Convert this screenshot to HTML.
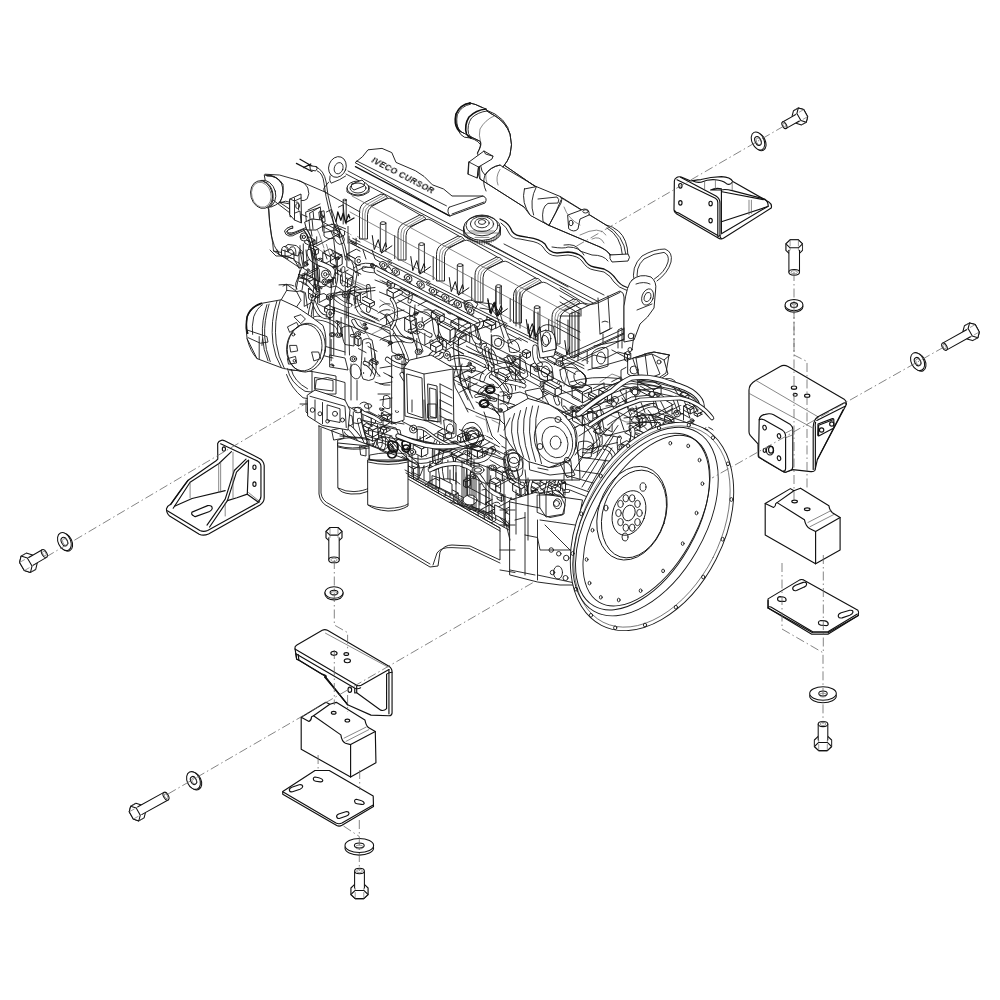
<!DOCTYPE html>
<html><head><meta charset="utf-8"><style>
html,body{margin:0;padding:0;background:#fff;}
svg{display:block}
svg text{opacity:0.99}
.k{stroke:#111;stroke-width:1.05;stroke-linejoin:round;stroke-linecap:round}
.n{stroke:none}
.t{stroke:#555;stroke-width:0.6;fill:none}
.c{stroke:#666;stroke-width:0.8;fill:none;stroke-dasharray:9 3 1.5 3}
.z *{vector-effect:non-scaling-stroke}
.e{stroke:#1a1a1a;stroke-width:0.9;fill:none;stroke-linejoin:round;stroke-linecap:round}
.ew{stroke:#1a1a1a;stroke-width:0.95;fill:#fff;stroke-linejoin:round;stroke-linecap:round}
.eb{stroke:#111;stroke-width:1.2;fill:#fff;stroke-linejoin:round;stroke-linecap:round}
.p{stroke:#111;stroke-width:1.15;fill:none;stroke-linejoin:round;stroke-linecap:round}
.pw{stroke:#111;stroke-width:1.15;fill:#fff;stroke-linejoin:round;stroke-linecap:round}
.el{stroke:#555;stroke-width:0.7;fill:none;stroke-linejoin:round;stroke-linecap:round}
</style></head>
<body><svg width="1000" height="1000" viewBox="0 0 1000 1000">
<rect width="1000" height="1000" fill="#fff"/>
<defs>
<clipPath id="cz0"><polygon points="300,250 350,245 590,370 640,395 700,410 720,440 700,470 620,470 570,440 520,420 460,400 400,380 340,370 300,350"/></clipPath>
<clipPath id="cz1"><polygon points="340,400 420,415 500,440 560,470 575,500 560,540 500,528 408,476 345,440"/></clipPath>
<clipPath id="cz2"><polygon points="600,350 640,345 700,385 705,410 690,425 650,420 600,400"/></clipPath>
<clipPath id="cz3"><polygon points="510,470 570,470 585,500 575,560 540,575 510,540"/></clipPath>
<clipPath id="cz4"><polygon points="295,230 330,222 360,240 362,300 330,320 300,300"/></clipPath>
</defs>
<g clip-path="url(#cz0)">
<path d="M508.1,346.1 l21.0,11.1" class="e"/>
<path d="M463.7,381.7 l19.2,-10.2" class="e"/>
<path d="M697.0,447.8 C704.3,450.3 706.0,451.6 709.5,450.3" style="stroke:#1a1a1a;stroke-width:4.5;fill:none;stroke-linecap:round"/><path d="M697.0,447.8 C704.3,450.3 706.0,451.6 709.5,450.3" style="stroke:#fff;stroke-width:2.9;fill:none;stroke-linecap:round"/>
<path d="M619.6,459.3 L619.6,463.5 L619.6,453.9 L629.4,448.8 L629.4,438.7" class="e"/>
<path d="M427.4,377.2 L416.4,383.0 L403.9,376.4 L403.9,383.2 L403.9,396.0" class="e"/>
<path d="M345.3,281.8 l0.0,13.0" class="e"/>
<path d="M312.4,254.8 l0.0,24.7" class="e"/>
<path d="M542.8,390.6 C551.7,385.1 554.3,389.6 559.1,382.0" style="stroke:#1a1a1a;stroke-width:3.1;fill:none;stroke-linecap:round"/><path d="M542.8,390.6 C551.7,385.1 554.3,389.6 559.1,382.0" style="stroke:#fff;stroke-width:1.5;fill:none;stroke-linecap:round"/>
<polygon points="542.7,348.3 554.9,354.8 554.9,364.7 542.7,358.2" class="ew"/><polygon points="554.9,354.8 557.4,353.4 557.4,363.4 554.9,364.7" class="ew"/><polygon points="542.7,348.3 554.9,354.8 557.4,353.4 545.2,347.0" class="ew"/>
<path d="M644.6,444.4 l0.0,21.4" class="e"/>
<path d="M453.2,369.7 L459.1,366.6 L459.1,357.6 L459.1,354.0" class="e"/>
<path d="M661.6,424.6 l21.5,-11.4" class="e"/>
<path d="M418.1,305.4 l9.5,-5.0" class="e"/>
<ellipse cx="329.2" cy="280.9" rx="1.9" ry="1.6" class="ew"/><ellipse cx="329.2" cy="280.9" rx="0.9" ry="0.9" class="e"/>
<path d="M435.2,351.6 C425.8,358.0 427.7,365.5 415.1,362.3" style="stroke:#1a1a1a;stroke-width:4.2;fill:none;stroke-linecap:round"/><path d="M435.2,351.6 C425.8,358.0 427.7,365.5 415.1,362.3" style="stroke:#fff;stroke-width:2.6;fill:none;stroke-linecap:round"/>
<path d="M394.7,334.4 C399.1,339.0 413.6,367.4 405.8,371.6" style="stroke:#1a1a1a;stroke-width:4.2;fill:none;stroke-linecap:round"/><path d="M394.7,334.4 C399.1,339.0 413.6,367.4 405.8,371.6" style="stroke:#fff;stroke-width:2.6;fill:none;stroke-linecap:round"/>
<polygon points="694.5,412.4 697.6,414.0 697.6,416.6 694.5,415.0" class="ew"/><polygon points="697.6,414.0 703.1,411.1 703.1,413.7 697.6,416.6" class="ew"/><polygon points="694.5,412.4 697.6,414.0 703.1,411.1 700.0,409.4" class="ew"/>
<ellipse cx="644.2" cy="461.5" rx="1.9" ry="2.2" class="ew"/><ellipse cx="644.2" cy="461.5" rx="0.9" ry="0.9" class="e"/>
<path d="M381.5,268.5 l11.6,-6.2" class="e"/>
<path d="M469.0,308.3 C468.6,312.5 480.0,339.7 479.3,342.8" style="stroke:#1a1a1a;stroke-width:5.1;fill:none;stroke-linecap:round"/><path d="M469.0,308.3 C468.6,312.5 480.0,339.7 479.3,342.8" style="stroke:#fff;stroke-width:3.5;fill:none;stroke-linecap:round"/>
<path d="M335.6,283.2 L335.6,277.6 L330.9,280.1 L330.9,287.2" class="e"/>
<path d="M505.3,375.5 l12.1,-6.4" class="e"/>
<polygon points="631.0,431.4 642.4,437.5 642.4,446.1 631.0,440.1" class="ew"/><polygon points="642.4,437.5 647.5,434.8 647.5,443.5 642.4,446.1" class="ew"/><polygon points="631.0,431.4 642.4,437.5 647.5,434.8 636.0,428.7" class="ew"/>
<path d="M630.5,431.2 C644.1,429.8 654.8,442.9 657.7,445.7" style="stroke:#1a1a1a;stroke-width:3.3;fill:none;stroke-linecap:round"/><path d="M630.5,431.2 C644.1,429.8 654.8,442.9 657.7,445.7" style="stroke:#fff;stroke-width:1.7;fill:none;stroke-linecap:round"/>
<path d="M368.0,346.5 l9.0,4.8" class="e"/>
<path d="M387.2,316.4 C393.4,319.8 395.1,341.7 411.3,340.5" style="stroke:#1a1a1a;stroke-width:5.4;fill:none;stroke-linecap:round"/><path d="M387.2,316.4 C393.4,319.8 395.1,341.7 411.3,340.5" style="stroke:#fff;stroke-width:3.8;fill:none;stroke-linecap:round"/>
<path d="M346.8,293.4 l0.0,24.6" class="e"/>
<polygon points="387.3,289.8 393.5,293.1 393.5,298.3 387.3,295.0" class="ew"/><polygon points="393.5,293.1 402.3,288.5 402.3,293.7 393.5,298.3" class="ew"/><polygon points="387.3,289.8 393.5,293.1 402.3,288.5 396.0,285.2" class="ew"/>
<path d="M317.2,287.0 l17.0,-9.0" class="e"/>
<path d="M556.8,426.7 C552.0,421.0 539.7,425.7 539.0,423.1" style="stroke:#1a1a1a;stroke-width:5.1;fill:none;stroke-linecap:round"/><path d="M556.8,426.7 C552.0,421.0 539.7,425.7 539.0,423.1" style="stroke:#fff;stroke-width:3.5;fill:none;stroke-linecap:round"/>
<path d="M364.8,357.8 l0.0,7.5" class="e"/>
<path d="M313.3,316.1 L313.3,301.6 L304.2,306.4 L304.2,293.1 L292.6,286.9" class="e"/>
<path d="M484.5,366.1 C477.2,362.2 461.7,351.9 449.8,359.1" style="stroke:#1a1a1a;stroke-width:3.5;fill:none;stroke-linecap:round"/><path d="M484.5,366.1 C477.2,362.2 461.7,351.9 449.8,359.1" style="stroke:#fff;stroke-width:1.9;fill:none;stroke-linecap:round"/>
<path d="M352.6,303.3 l13.6,-7.2" class="e"/>
<ellipse cx="372.3" cy="265.1" rx="1.9" ry="1.7" class="ew"/><ellipse cx="372.3" cy="265.1" rx="0.9" ry="0.9" class="e"/>
<path d="M675.1,452.1 L682.1,455.8 L671.6,450.3" class="e"/>
<path d="M556.7,408.8 l24.5,13.0" class="e"/>
<ellipse cx="320.2" cy="261.1" rx="3.7" ry="2.9" class="ew"/><ellipse cx="320.2" cy="261.1" rx="1.7" ry="1.7" class="e"/>
<polygon points="621.7,443.7 634.6,450.5 634.6,461.0 621.7,454.2" class="ew"/><polygon points="634.6,450.5 639.9,447.7 639.9,458.2 634.6,461.0" class="ew"/><polygon points="621.7,443.7 634.6,450.5 639.9,447.7 627.1,440.8" class="ew"/>
<path d="M659.6,446.7 L653.5,443.5 L653.5,453.4" class="e"/>
<path d="M507.9,333.6 l13.3,7.0" class="e"/>
<path d="M657.4,456.5 L661.7,454.2 L666.0,456.5 L675.6,451.3" class="e"/>
<ellipse cx="416.6" cy="330.2" rx="3.9" ry="3.8" class="ew"/><ellipse cx="416.6" cy="330.2" rx="1.8" ry="1.8" class="e"/>
<path d="M409.4,283.9 C408.8,293.0 413.1,292.7 409.4,301.5" style="stroke:#1a1a1a;stroke-width:3.9;fill:none;stroke-linecap:round"/><path d="M409.4,283.9 C408.8,293.0 413.1,292.7 409.4,301.5" style="stroke:#fff;stroke-width:2.3;fill:none;stroke-linecap:round"/>
<path d="M449.9,339.5 C441.0,345.3 434.8,348.0 434.1,347.9" style="stroke:#1a1a1a;stroke-width:5.3;fill:none;stroke-linecap:round"/><path d="M449.9,339.5 C441.0,345.3 434.8,348.0 434.1,347.9" style="stroke:#fff;stroke-width:3.7;fill:none;stroke-linecap:round"/>
<path d="M619.6,464.0 C622.4,460.3 616.9,440.0 619.6,438.0" style="stroke:#1a1a1a;stroke-width:4.5;fill:none;stroke-linecap:round"/><path d="M619.6,464.0 C622.4,460.3 616.9,440.0 619.6,438.0" style="stroke:#fff;stroke-width:2.9;fill:none;stroke-linecap:round"/>
<path d="M460.6,370.3 L460.6,381.7 L470.0,376.7 L470.0,387.1 L470.0,392.8" class="e"/>
<polygon points="301.5,332.6 311.3,337.8 311.3,346.0 301.5,340.8" class="ew"/><polygon points="311.3,337.8 316.5,335.1 316.5,343.3 311.3,346.0" class="ew"/><polygon points="301.5,332.6 311.3,337.8 316.5,335.1 306.6,329.8" class="ew"/>
<ellipse cx="677.1" cy="413.5" rx="3.4" ry="3.4" class="ew"/><ellipse cx="677.1" cy="413.5" rx="1.5" ry="1.5" class="e"/>
<polygon points="572.5,386.7 582.7,392.1 582.7,402.8 572.5,397.4" class="ew"/><polygon points="582.7,392.1 591.4,387.5 591.4,398.2 582.7,402.8" class="ew"/><polygon points="572.5,386.7 582.7,392.1 591.4,387.5 581.1,382.1" class="ew"/>
<path d="M655.4,417.7 l17.5,-9.3" class="e"/>
<polygon points="683.3,424.6 690.9,428.7 690.9,434.9 683.3,430.9" class="ew"/><polygon points="690.9,428.7 696.8,425.5 696.8,431.8 690.9,434.9" class="ew"/><polygon points="683.3,424.6 690.9,428.7 696.8,425.5 689.2,421.5" class="ew"/>
<polygon points="371.2,359.8 376.5,362.6 376.5,364.8 371.2,362.1" class="ew"/><polygon points="376.5,362.6 378.1,361.7 378.1,363.9 376.5,364.8" class="ew"/><polygon points="371.2,359.8 376.5,362.6 378.1,361.7 372.9,358.9" class="ew"/>
<ellipse cx="415.8" cy="313.5" rx="2.1" ry="1.8" class="ew"/><ellipse cx="415.8" cy="313.5" rx="0.9" ry="0.9" class="e"/>
<path d="M496.5,370.5 C496.1,361.4 493.2,352.9 490.7,351.0" style="stroke:#1a1a1a;stroke-width:4.9;fill:none;stroke-linecap:round"/><path d="M496.5,370.5 C496.1,361.4 493.2,352.9 490.7,351.0" style="stroke:#fff;stroke-width:3.3;fill:none;stroke-linecap:round"/>
<polygon points="631.7,440.0 640.2,444.5 640.2,451.7 631.7,447.2" class="ew"/><polygon points="640.2,444.5 644.8,442.1 644.8,449.2 640.2,451.7" class="ew"/><polygon points="631.7,440.0 640.2,444.5 644.8,442.1 636.3,437.6" class="ew"/>
<path d="M683.5,408.9 l0.0,11.0" class="e"/>
<path d="M430.1,335.2 C424.3,332.6 414.8,326.0 414.4,326.8" style="stroke:#1a1a1a;stroke-width:4.8;fill:none;stroke-linecap:round"/><path d="M430.1,335.2 C424.3,332.6 414.8,326.0 414.4,326.8" style="stroke:#fff;stroke-width:3.2;fill:none;stroke-linecap:round"/>
<path d="M642.3,461.9 l12.5,-6.6" class="e"/>
<ellipse cx="340.0" cy="334.9" rx="2.4" ry="1.9" class="ew"/><ellipse cx="340.0" cy="334.9" rx="1.1" ry="1.1" class="e"/>
<path d="M494.3,375.5 C486.0,358.2 478.5,344.5 485.1,344.8" style="stroke:#1a1a1a;stroke-width:3.9;fill:none;stroke-linecap:round"/><path d="M494.3,375.5 C486.0,358.2 478.5,344.5 485.1,344.8" style="stroke:#fff;stroke-width:2.3;fill:none;stroke-linecap:round"/>
<path d="M382.3,281.0 l18.3,9.7" class="e"/>
<path d="M306.4,277.7 l7.1,-3.8" class="e"/>
<ellipse cx="692.0" cy="420.7" rx="2.0" ry="1.9" class="ew"/><ellipse cx="692.0" cy="420.7" rx="0.9" ry="0.9" class="e"/>
<path d="M354.7,307.8 l9.6,-5.1" class="e"/>
<path d="M463.7,387.0 L468.5,389.5 L468.5,383.7" class="e"/>
<path d="M593.2,388.6 L604.1,382.8 L604.1,392.6 L604.1,400.6 L612.0,404.8" class="e"/>
<path d="M658.9,436.7 C659.7,436.0 665.6,434.7 673.2,439.6" style="stroke:#1a1a1a;stroke-width:5.1;fill:none;stroke-linecap:round"/><path d="M658.9,436.7 C659.7,436.0 665.6,434.7 673.2,439.6" style="stroke:#fff;stroke-width:3.5;fill:none;stroke-linecap:round"/>
<ellipse cx="620.6" cy="447.2" rx="3.3" ry="2.8" class="ew"/><ellipse cx="620.6" cy="447.2" rx="1.5" ry="1.5" class="e"/>
<polygon points="405.0,318.2 411.1,321.4 411.1,333.8 405.0,330.6" class="ew"/><polygon points="411.1,321.4 416.3,318.7 416.3,331.0 411.1,333.8" class="ew"/><polygon points="405.0,318.2 411.1,321.4 416.3,318.7 410.3,315.4" class="ew"/>
<path d="M409.3,330.5 C412.1,334.1 428.7,318.4 436.7,316.0" style="stroke:#1a1a1a;stroke-width:3.3;fill:none;stroke-linecap:round"/><path d="M409.3,330.5 C412.1,334.1 428.7,318.4 436.7,316.0" style="stroke:#fff;stroke-width:1.7;fill:none;stroke-linecap:round"/>
<path d="M520.0,370.7 l0.0,17.0" class="e"/>
<ellipse cx="366.0" cy="328.3" rx="1.7" ry="1.5" class="ew"/><ellipse cx="366.0" cy="328.3" rx="0.8" ry="0.8" class="e"/>
<polygon points="431.7,312.1 440.0,316.5 440.0,322.6 431.7,318.2" class="ew"/><polygon points="440.0,316.5 444.3,314.2 444.3,320.3 440.0,322.6" class="ew"/><polygon points="431.7,312.1 440.0,316.5 444.3,314.2 436.0,309.8" class="ew"/>
<path d="M436.7,318.7 C447.9,338.0 446.8,356.3 436.7,358.1" style="stroke:#1a1a1a;stroke-width:4.3;fill:none;stroke-linecap:round"/><path d="M436.7,318.7 C447.9,338.0 446.8,356.3 436.7,358.1" style="stroke:#fff;stroke-width:2.7;fill:none;stroke-linecap:round"/>
<path d="M520.0,374.5 L520.0,362.5 L520.0,354.1 L520.0,368.4 L514.9,365.7" class="e"/>
<path d="M392.9,275.0 C381.9,266.3 381.4,244.7 383.3,243.0" style="stroke:#1a1a1a;stroke-width:5.4;fill:none;stroke-linecap:round"/><path d="M392.9,275.0 C381.9,266.3 381.4,244.7 383.3,243.0" style="stroke:#fff;stroke-width:3.8;fill:none;stroke-linecap:round"/>
<polygon points="663.5,445.9 673.3,451.1 673.3,462.4 663.5,457.1" class="ew"/><polygon points="673.3,451.1 682.4,446.3 682.4,457.6 673.3,462.4" class="ew"/><polygon points="663.5,445.9 673.3,451.1 682.4,446.3 672.5,441.1" class="ew"/>
<path d="M604.8,428.2 L612.1,432.0 L612.1,424.0" class="e"/>
<path d="M558.7,359.8 l14.1,-7.5" class="e"/>
<path d="M379.7,312.4 l6.1,3.2" class="e"/>
<path d="M626.2,390.1 L626.2,398.8 L626.2,404.3 L620.4,407.3" class="e"/>
<polygon points="624.5,464.3 628.2,466.3 628.2,468.0 624.5,466.1" class="ew"/><polygon points="628.2,466.3 631.3,464.6 631.3,466.4 628.2,468.0" class="ew"/><polygon points="624.5,464.3 628.2,466.3 631.3,464.6 627.6,462.6" class="ew"/>
<path d="M576.8,414.0 C572.6,414.5 566.7,411.4 563.9,407.2" style="stroke:#1a1a1a;stroke-width:3.3;fill:none;stroke-linecap:round"/><path d="M576.8,414.0 C572.6,414.5 566.7,411.4 563.9,407.2" style="stroke:#fff;stroke-width:1.7;fill:none;stroke-linecap:round"/>
<path d="M448.9,338.4 C451.2,341.1 456.8,333.0 463.7,330.5" style="stroke:#1a1a1a;stroke-width:3.8;fill:none;stroke-linecap:round"/><path d="M448.9,338.4 C451.2,341.1 456.8,333.0 463.7,330.5" style="stroke:#fff;stroke-width:2.2;fill:none;stroke-linecap:round"/>
<ellipse cx="610.6" cy="400.5" rx="3.4" ry="3.2" class="ew"/><ellipse cx="610.6" cy="400.5" rx="1.5" ry="1.5" class="e"/>
<path d="M338.4,274.1 L334.1,271.9 L339.2,274.6" class="e"/>
<polygon points="530.8,365.3 547.8,374.3 547.8,385.3 530.8,376.3" class="ew"/><polygon points="547.8,374.3 552.1,372.0 552.1,383.0 547.8,385.3" class="ew"/><polygon points="530.8,365.3 547.8,374.3 552.1,372.0 535.1,363.0" class="ew"/>
<path d="M476.2,396.1 C484.3,392.0 486.2,400.5 495.3,399.9" style="stroke:#1a1a1a;stroke-width:3.8;fill:none;stroke-linecap:round"/><path d="M476.2,396.1 C484.3,392.0 486.2,400.5 495.3,399.9" style="stroke:#fff;stroke-width:2.2;fill:none;stroke-linecap:round"/>
<ellipse cx="487.9" cy="398.4" rx="2.5" ry="2.5" class="ew"/><ellipse cx="487.9" cy="398.4" rx="1.1" ry="1.1" class="e"/>
<path d="M557.7,403.0 C556.0,402.1 554.4,386.9 552.2,384.6" style="stroke:#1a1a1a;stroke-width:5.0;fill:none;stroke-linecap:round"/><path d="M557.7,403.0 C556.0,402.1 554.4,386.9 552.2,384.6" style="stroke:#fff;stroke-width:3.4;fill:none;stroke-linecap:round"/>
<polygon points="688.8,463.0 696.7,467.1 696.7,477.4 688.8,473.3" class="ew"/><polygon points="696.7,467.1 703.6,463.4 703.6,473.8 696.7,477.4" class="ew"/><polygon points="688.8,463.0 696.7,467.1 703.6,463.4 695.8,459.3" class="ew"/>
<path d="M396.0,306.8 l13.8,7.3" class="e"/>
<path d="M407.7,336.7 l23.2,12.3" class="e"/>
<path d="M523.8,382.0 C518.6,377.0 513.5,366.7 507.1,365.3" style="stroke:#1a1a1a;stroke-width:3.8;fill:none;stroke-linecap:round"/><path d="M523.8,382.0 C518.6,377.0 513.5,366.7 507.1,365.3" style="stroke:#fff;stroke-width:2.2;fill:none;stroke-linecap:round"/>
<path d="M511.7,363.9 C502.7,365.2 483.6,367.6 482.2,379.5" style="stroke:#1a1a1a;stroke-width:5.6;fill:none;stroke-linecap:round"/><path d="M511.7,363.9 C502.7,365.2 483.6,367.6 482.2,379.5" style="stroke:#fff;stroke-width:4.0;fill:none;stroke-linecap:round"/>
<ellipse cx="526.3" cy="403.2" rx="3.2" ry="2.6" class="ew"/><ellipse cx="526.3" cy="403.2" rx="1.4" ry="1.4" class="e"/>
<path d="M383.7,372.7 L393.1,377.6 L388.9,375.5" class="e"/>
<ellipse cx="443.3" cy="380.3" rx="1.6" ry="1.3" class="ew"/><ellipse cx="443.3" cy="380.3" rx="0.7" ry="0.7" class="e"/>
<path d="M358.6,301.4 l18.9,10.0" class="e"/>
<polygon points="404.6,364.2 411.2,367.7 411.2,372.8 404.6,369.3" class="ew"/><polygon points="411.2,367.7 413.7,366.3 413.7,371.5 411.2,372.8" class="ew"/><polygon points="404.6,364.2 411.2,367.7 413.7,366.3 407.2,362.8" class="ew"/>
<path d="M673.0,460.8 C683.5,477.2 689.6,483.6 699.8,487.5" style="stroke:#1a1a1a;stroke-width:5.1;fill:none;stroke-linecap:round"/><path d="M673.0,460.8 C683.5,477.2 689.6,483.6 699.8,487.5" style="stroke:#fff;stroke-width:3.5;fill:none;stroke-linecap:round"/>
<ellipse cx="560.7" cy="363.7" rx="2.8" ry="2.5" class="ew"/><ellipse cx="560.7" cy="363.7" rx="1.3" ry="1.3" class="e"/>
<ellipse cx="390.3" cy="342.8" rx="2.1" ry="1.8" class="ew"/><ellipse cx="390.3" cy="342.8" rx="1.0" ry="1.0" class="e"/>
<polygon points="522.7,351.5 526.9,353.7 526.9,358.3 522.7,356.0" class="ew"/><polygon points="526.9,353.7 530.5,351.8 530.5,356.3 526.9,358.3" class="ew"/><polygon points="522.7,351.5 526.9,353.7 530.5,351.8 526.3,349.5" class="ew"/>
<path d="M603.7,399.0 C599.2,404.1 595.0,405.6 585.5,408.7" style="stroke:#1a1a1a;stroke-width:4.8;fill:none;stroke-linecap:round"/><path d="M603.7,399.0 C599.2,404.1 595.0,405.6 585.5,408.7" style="stroke:#fff;stroke-width:3.2;fill:none;stroke-linecap:round"/>
<polygon points="636.4,417.7 640.6,419.9 640.6,427.7 636.4,425.5" class="ew"/><polygon points="640.6,419.9 646.0,417.0 646.0,424.8 640.6,427.7" class="ew"/><polygon points="636.4,417.7 640.6,419.9 646.0,417.0 641.8,414.8" class="ew"/>
<path d="M361.0,311.4 l18.1,9.6" class="e"/>
<path d="M613.7,457.0 C614.4,453.6 608.2,447.2 604.6,447.9" style="stroke:#1a1a1a;stroke-width:4.2;fill:none;stroke-linecap:round"/><path d="M613.7,457.0 C614.4,453.6 608.2,447.2 604.6,447.9" style="stroke:#fff;stroke-width:2.6;fill:none;stroke-linecap:round"/>
<path d="M317.7,270.0 C318.7,285.2 315.4,288.0 317.7,296.2" style="stroke:#1a1a1a;stroke-width:4.0;fill:none;stroke-linecap:round"/><path d="M317.7,270.0 C318.7,285.2 315.4,288.0 317.7,296.2" style="stroke:#fff;stroke-width:2.4;fill:none;stroke-linecap:round"/>
<path d="M592.9,453.7 l8.0,-4.2" class="e"/>
<path d="M677.3,451.0 l13.9,-7.4" class="e"/>
<path d="M485.2,402.3 l15.9,8.4" class="e"/>
<path d="M515.5,367.2 l0.0,23.0" class="e"/>
<path d="M438.2,300.2 l20.1,-10.7" class="e"/>
<path d="M485.1,367.0 l23.6,12.5" class="e"/>
<path d="M363.0,329.6 C358.6,331.4 357.5,337.0 351.7,335.6" style="stroke:#1a1a1a;stroke-width:3.3;fill:none;stroke-linecap:round"/><path d="M363.0,329.6 C358.6,331.4 357.5,337.0 351.7,335.6" style="stroke:#fff;stroke-width:1.7;fill:none;stroke-linecap:round"/>
<path d="M364.8,363.0 C372.2,364.0 376.5,378.1 378.3,376.6" style="stroke:#1a1a1a;stroke-width:4.3;fill:none;stroke-linecap:round"/><path d="M364.8,363.0 C372.2,364.0 376.5,378.1 378.3,376.6" style="stroke:#fff;stroke-width:2.7;fill:none;stroke-linecap:round"/>
<ellipse cx="331.9" cy="365.7" rx="1.9" ry="1.7" class="ew"/><ellipse cx="331.9" cy="365.7" rx="0.9" ry="0.9" class="e"/>
<polygon points="309.1,293.8 313.5,296.1 313.5,300.0 309.1,297.7" class="ew"/><polygon points="313.5,296.1 315.3,295.1 315.3,299.0 313.5,300.0" class="ew"/><polygon points="309.1,293.8 313.5,296.1 315.3,295.1 310.9,292.8" class="ew"/>
<ellipse cx="332.4" cy="334.6" rx="2.9" ry="2.1" class="ew"/><ellipse cx="332.4" cy="334.6" rx="1.3" ry="1.3" class="e"/>
<path d="M337.7,266.3 l0.0,6.9" class="e"/>
<path d="M416.8,338.5 l0.0,24.7" class="e"/>
<path d="M647.2,418.4 l24.8,-13.2" class="e"/>
<path d="M532.6,402.2 l21.4,-11.3" class="e"/>
<path d="M363.6,372.5 l0.0,20.8" class="e"/>
<path d="M335.1,326.1 L340.3,323.4 L336.5,321.4 L332.3,323.6" class="e"/>
<ellipse cx="543.3" cy="384.1" rx="3.3" ry="2.7" class="ew"/><ellipse cx="543.3" cy="384.1" rx="1.5" ry="1.5" class="e"/>
<path d="M358.5,348.6 l7.6,4.0" class="e"/>
<polygon points="312.7,336.2 318.3,339.2 318.3,344.0 312.7,341.0" class="ew"/><polygon points="318.3,339.2 322.2,337.1 322.2,341.9 318.3,344.0" class="ew"/><polygon points="312.7,336.2 318.3,339.2 322.2,337.1 316.6,334.1" class="ew"/>
<path d="M689.5,436.2 C687.9,432.3 679.6,432.2 672.2,432.8" style="stroke:#1a1a1a;stroke-width:4.9;fill:none;stroke-linecap:round"/><path d="M689.5,436.2 C687.9,432.3 679.6,432.2 672.2,432.8" style="stroke:#fff;stroke-width:3.3;fill:none;stroke-linecap:round"/>
<polygon points="558.4,414.8 564.3,418.0 564.3,423.4 558.4,420.2" class="ew"/><polygon points="564.3,418.0 566.6,416.7 566.6,422.1 564.3,423.4" class="ew"/><polygon points="558.4,414.8 564.3,418.0 566.6,416.7 560.7,413.6" class="ew"/>
<path d="M387.3,359.2 C398.7,368.5 414.7,369.4 423.9,366.6" style="stroke:#1a1a1a;stroke-width:4.9;fill:none;stroke-linecap:round"/><path d="M387.3,359.2 C398.7,368.5 414.7,369.4 423.9,366.6" style="stroke:#fff;stroke-width:3.3;fill:none;stroke-linecap:round"/>
<path d="M601.4,426.9 L593.0,431.4 L602.2,436.3 L602.2,444.3 L592.0,449.7" class="e"/>
<path d="M535.0,347.1 C534.8,349.5 534.0,361.9 540.2,364.4" style="stroke:#1a1a1a;stroke-width:5.2;fill:none;stroke-linecap:round"/><path d="M535.0,347.1 C534.8,349.5 534.0,361.9 540.2,364.4" style="stroke:#fff;stroke-width:3.6;fill:none;stroke-linecap:round"/>
<path d="M655.5,432.6 C652.6,425.1 653.7,422.2 650.6,416.5" style="stroke:#1a1a1a;stroke-width:4.4;fill:none;stroke-linecap:round"/><path d="M655.5,432.6 C652.6,425.1 653.7,422.2 650.6,416.5" style="stroke:#fff;stroke-width:2.8;fill:none;stroke-linecap:round"/>
<polygon points="618.0,466.5 620.4,467.8 620.4,473.5 618.0,472.2" class="ew"/><polygon points="620.4,467.8 623.6,466.1 623.6,471.8 620.4,473.5" class="ew"/><polygon points="618.0,466.5 620.4,467.8 623.6,466.1 621.2,464.8" class="ew"/>
<ellipse cx="658.6" cy="456.2" rx="3.0" ry="2.2" class="ew"/><ellipse cx="658.6" cy="456.2" rx="1.3" ry="1.3" class="e"/>
<ellipse cx="338.6" cy="335.0" rx="2.9" ry="2.5" class="ew"/><ellipse cx="338.6" cy="335.0" rx="1.3" ry="1.3" class="e"/>
<path d="M412.5,324.2 L416.6,326.4 L422.2,323.4 L422.2,317.5" class="e"/>
<path d="M663.3,422.1 l0.0,13.9" class="e"/>
<ellipse cx="441.4" cy="327.9" rx="3.1" ry="3.1" class="ew"/><ellipse cx="441.4" cy="327.9" rx="1.4" ry="1.4" class="e"/>
<path d="M503.7,387.7 l0.0,14.5" class="e"/>
<polygon points="687.5,449.7 693.1,452.7 693.1,456.8 687.5,453.9" class="ew"/><polygon points="693.1,452.7 696.8,450.7 696.8,454.9 693.1,456.8" class="ew"/><polygon points="687.5,449.7 693.1,452.7 696.8,450.7 691.2,447.8" class="ew"/>
<polygon points="451.2,321.8 459.6,326.3 459.6,330.8 451.2,326.3" class="ew"/><polygon points="459.6,326.3 465.4,323.2 465.4,327.7 459.6,330.8" class="ew"/><polygon points="451.2,321.8 459.6,326.3 465.4,323.2 457.0,318.7" class="ew"/>
<polygon points="632.0,414.8 640.0,419.1 640.0,426.0 632.0,421.7" class="ew"/><polygon points="640.0,419.1 642.3,417.9 642.3,424.8 640.0,426.0" class="ew"/><polygon points="632.0,414.8 640.0,419.1 642.3,417.9 634.2,413.6" class="ew"/>
<polygon points="679.8,459.3 685.1,462.1 685.1,465.3 679.8,462.5" class="ew"/><polygon points="685.1,462.1 688.9,460.1 688.9,463.3 685.1,465.3" class="ew"/><polygon points="679.8,459.3 685.1,462.1 688.9,460.1 683.6,457.3" class="ew"/>
<path d="M630.7,427.4 C636.6,429.6 629.8,444.3 630.7,454.7" style="stroke:#1a1a1a;stroke-width:4.5;fill:none;stroke-linecap:round"/><path d="M630.7,427.4 C636.6,429.6 629.8,444.3 630.7,454.7" style="stroke:#fff;stroke-width:2.9;fill:none;stroke-linecap:round"/>
<path d="M547.1,394.3 L542.8,392.0 L542.8,399.1" class="e"/>
<path d="M451.7,347.6 L463.8,354.0 L451.3,347.4 L439.5,353.6" class="e"/>
<polygon points="544.1,383.1 555.4,389.1 555.4,396.8 544.1,390.8" class="ew"/><polygon points="555.4,389.1 561.4,385.9 561.4,393.6 555.4,396.8" class="ew"/><polygon points="544.1,383.1 555.4,389.1 561.4,385.9 550.1,379.9" class="ew"/>
<path d="M560.3,435.3 l17.1,-9.0" class="e"/>
<path d="M331.1,339.5 l0.0,21.3" class="e"/>
<ellipse cx="536.7" cy="368.8" rx="2.7" ry="2.8" class="ew"/><ellipse cx="536.7" cy="368.8" rx="1.2" ry="1.2" class="e"/>
<path d="M489.0,351.0 l0.0,18.8" class="e"/>
<polygon points="466.5,366.4 471.7,369.2 471.7,372.7 466.5,370.0" class="ew"/><polygon points="471.7,369.2 475.2,367.3 475.2,370.9 471.7,372.7" class="ew"/><polygon points="466.5,366.4 471.7,369.2 475.2,367.3 470.0,364.6" class="ew"/>
<path d="M449.3,359.3 C449.5,347.1 430.9,352.4 431.4,341.4" style="stroke:#1a1a1a;stroke-width:3.9;fill:none;stroke-linecap:round"/><path d="M449.3,359.3 C449.5,347.1 430.9,352.4 431.4,341.4" style="stroke:#fff;stroke-width:2.3;fill:none;stroke-linecap:round"/>
<polygon points="459.1,318.0 473.7,325.7 473.7,338.1 459.1,330.3" class="ew"/><polygon points="473.7,325.7 477.4,323.8 477.4,336.1 473.7,338.1" class="ew"/><polygon points="459.1,318.0 473.7,325.7 477.4,323.8 462.8,316.1" class="ew"/>
<path d="M472.1,321.7 C477.2,326.7 475.9,349.5 480.7,350.4" style="stroke:#1a1a1a;stroke-width:4.8;fill:none;stroke-linecap:round"/><path d="M472.1,321.7 C477.2,326.7 475.9,349.5 480.7,350.4" style="stroke:#fff;stroke-width:3.2;fill:none;stroke-linecap:round"/>
<path d="M708.7,427.4 L720.6,433.7 L720.6,441.5 L713.0,445.6" class="e"/>
<path d="M509.1,396.9 C513.1,385.3 506.6,386.1 502.7,375.5" style="stroke:#1a1a1a;stroke-width:4.5;fill:none;stroke-linecap:round"/><path d="M509.1,396.9 C513.1,385.3 506.6,386.1 502.7,375.5" style="stroke:#fff;stroke-width:2.9;fill:none;stroke-linecap:round"/>
<path d="M653.6,414.3 l8.2,4.3" class="e"/>
<path d="M665.5,413.3 l24.8,-13.1" class="e"/>
<polygon points="323.1,252.8 334.5,258.9 334.5,267.8 323.1,261.8" class="ew"/><polygon points="334.5,258.9 341.6,255.1 341.6,264.1 334.5,267.8" class="ew"/><polygon points="323.1,252.8 334.5,258.9 341.6,255.1 330.2,249.1" class="ew"/>
<ellipse cx="411.8" cy="375.9" rx="3.7" ry="2.9" class="ew"/><ellipse cx="411.8" cy="375.9" rx="1.7" ry="1.7" class="e"/>
<path d="M314.8,318.5 C317.5,317.0 338.8,320.9 339.4,331.5" style="stroke:#1a1a1a;stroke-width:4.4;fill:none;stroke-linecap:round"/><path d="M314.8,318.5 C317.5,317.0 338.8,320.9 339.4,331.5" style="stroke:#fff;stroke-width:2.8;fill:none;stroke-linecap:round"/>
<path d="M633.8,442.6 C653.0,438.2 647.0,447.8 665.1,459.1" style="stroke:#1a1a1a;stroke-width:3.5;fill:none;stroke-linecap:round"/><path d="M633.8,442.6 C653.0,438.2 647.0,447.8 665.1,459.1" style="stroke:#fff;stroke-width:1.9;fill:none;stroke-linecap:round"/>
<path d="M395.7,286.7 C401.8,286.3 402.3,289.1 407.6,293.0" style="stroke:#1a1a1a;stroke-width:4.9;fill:none;stroke-linecap:round"/><path d="M395.7,286.7 C401.8,286.3 402.3,289.1 407.6,293.0" style="stroke:#fff;stroke-width:3.3;fill:none;stroke-linecap:round"/>
<path d="M313.6,301.6 C316.6,308.6 319.0,318.1 329.0,317.1" style="stroke:#1a1a1a;stroke-width:4.2;fill:none;stroke-linecap:round"/><path d="M313.6,301.6 C316.6,308.6 319.0,318.1 329.0,317.1" style="stroke:#fff;stroke-width:2.6;fill:none;stroke-linecap:round"/>
<path d="M416.3,313.4 L410.2,316.6 L419.5,311.7 L415.5,313.8" class="e"/>
<path d="M492.2,386.1 C486.9,386.2 483.2,387.2 479.7,392.8" style="stroke:#1a1a1a;stroke-width:4.6;fill:none;stroke-linecap:round"/><path d="M492.2,386.1 C486.9,386.2 483.2,387.2 479.7,392.8" style="stroke:#fff;stroke-width:3.0;fill:none;stroke-linecap:round"/>
<ellipse cx="364.7" cy="324.5" rx="1.8" ry="1.4" class="ew"/><ellipse cx="364.7" cy="324.5" rx="0.8" ry="0.8" class="e"/>
<polygon points="572.8,410.5 582.6,415.7 582.6,426.0 572.8,420.8" class="ew"/><polygon points="582.6,415.7 592.9,410.2 592.9,420.6 582.6,426.0" class="ew"/><polygon points="572.8,410.5 582.6,415.7 592.9,410.2 583.1,405.0" class="ew"/>
<path d="M671.8,405.1 l7.2,-3.8" class="e"/>
<polygon points="437.4,335.7 443.7,339.0 443.7,340.8 437.4,337.5" class="ew"/><polygon points="443.7,339.0 447.2,337.2 447.2,339.0 443.7,340.8" class="ew"/><polygon points="437.4,335.7 443.7,339.0 447.2,337.2 440.8,333.8" class="ew"/>
<polygon points="340.8,275.5 347.9,279.3 347.9,287.2 340.8,283.4" class="ew"/><polygon points="347.9,279.3 353.0,276.5 353.0,284.5 347.9,287.2" class="ew"/><polygon points="340.8,275.5 347.9,279.3 353.0,276.5 345.9,272.8" class="ew"/>
<path d="M527.6,342.2 L519.3,337.8 L508.7,343.5 L498.3,338.0" class="e"/>
<polygon points="387.5,281.8 391.2,283.8 391.2,288.5 387.5,286.5" class="ew"/><polygon points="391.2,283.8 394.4,282.1 394.4,286.9 391.2,288.5" class="ew"/><polygon points="387.5,281.8 391.2,283.8 394.4,282.1 390.7,280.1" class="ew"/>
<path d="M443.8,374.4 l18.7,9.9" class="e"/>
<ellipse cx="446.8" cy="354.8" rx="3.2" ry="3.7" class="ew"/><ellipse cx="446.8" cy="354.8" rx="1.4" ry="1.4" class="e"/>
<path d="M337.6,321.0 l0.0,11.0" class="e"/>
<path d="M394.8,304.1 l22.5,-11.9" class="e"/>
<path d="M368.2,310.4 C370.4,304.2 369.3,295.2 368.2,286.4" style="stroke:#1a1a1a;stroke-width:4.6;fill:none;stroke-linecap:round"/><path d="M368.2,310.4 C370.4,304.2 369.3,295.2 368.2,286.4" style="stroke:#fff;stroke-width:3.0;fill:none;stroke-linecap:round"/>
<ellipse cx="447.7" cy="334.3" rx="2.9" ry="3.3" class="ew"/><ellipse cx="447.7" cy="334.3" rx="1.3" ry="1.3" class="e"/>
<path d="M466.3,346.1 l24.5,13.0" class="e"/>
<ellipse cx="333.2" cy="260.9" rx="2.7" ry="2.5" class="ew"/><ellipse cx="333.2" cy="260.9" rx="1.2" ry="1.2" class="e"/>
<path d="M437.4,362.1 C448.0,368.6 452.9,368.2 468.7,368.3" style="stroke:#1a1a1a;stroke-width:4.1;fill:none;stroke-linecap:round"/><path d="M437.4,362.1 C448.0,368.6 452.9,368.2 468.7,368.3" style="stroke:#fff;stroke-width:2.5;fill:none;stroke-linecap:round"/>
<polygon points="588.8,394.0 594.7,397.2 594.7,399.8 588.8,396.7" class="ew"/><polygon points="594.7,397.2 597.3,395.8 597.3,398.4 594.7,399.8" class="ew"/><polygon points="588.8,394.0 594.7,397.2 597.3,395.8 591.4,392.6" class="ew"/>
<polygon points="429.4,369.7 437.5,374.0 437.5,381.8 429.4,377.5" class="ew"/><polygon points="437.5,374.0 440.7,372.3 440.7,380.1 437.5,381.8" class="ew"/><polygon points="429.4,369.7 437.5,374.0 440.7,372.3 432.6,368.0" class="ew"/>
<path d="M459.6,392.3 l17.7,-9.4" class="e"/>
<polygon points="488.8,365.0 492.1,366.7 492.1,372.0 488.8,370.3" class="ew"/><polygon points="492.1,366.7 494.2,365.6 494.2,370.9 492.1,372.0" class="ew"/><polygon points="488.8,365.0 492.1,366.7 494.2,365.6 490.9,363.8" class="ew"/>
<ellipse cx="357.7" cy="334.4" rx="2.8" ry="2.8" class="ew"/><ellipse cx="357.7" cy="334.4" rx="1.3" ry="1.3" class="e"/>
<polygon points="548.0,354.9 556.5,359.4 556.5,364.0 548.0,359.4" class="ew"/><polygon points="556.5,359.4 562.5,356.2 562.5,360.8 556.5,364.0" class="ew"/><polygon points="548.0,354.9 556.5,359.4 562.5,356.2 554.0,351.7" class="ew"/>
<polygon points="487.2,316.8 496.0,321.5 496.0,328.2 487.2,323.5" class="ew"/><polygon points="496.0,321.5 504.2,317.1 504.2,323.9 496.0,328.2" class="ew"/><polygon points="487.2,316.8 496.0,321.5 504.2,317.1 495.4,312.4" class="ew"/>
<path d="M471.9,319.5 C473.6,321.3 471.7,341.7 478.6,341.8" style="stroke:#1a1a1a;stroke-width:5.3;fill:none;stroke-linecap:round"/><path d="M471.9,319.5 C473.6,321.3 471.7,341.7 478.6,341.8" style="stroke:#fff;stroke-width:3.7;fill:none;stroke-linecap:round"/>
<path d="M343.4,268.2 C342.4,271.9 345.5,277.6 343.4,284.4" style="stroke:#1a1a1a;stroke-width:4.0;fill:none;stroke-linecap:round"/><path d="M343.4,268.2 C342.4,271.9 345.5,277.6 343.4,284.4" style="stroke:#fff;stroke-width:2.4;fill:none;stroke-linecap:round"/>
<polygon points="599.2,389.8 607.7,394.3 607.7,400.6 599.2,396.1" class="ew"/><polygon points="607.7,394.3 611.7,392.2 611.7,398.5 607.7,400.6" class="ew"/><polygon points="599.2,389.8 607.7,394.3 611.7,392.2 603.2,387.7" class="ew"/>
<path d="M364.4,268.7 C371.3,271.7 381.6,269.3 384.9,272.8" style="stroke:#1a1a1a;stroke-width:5.6;fill:none;stroke-linecap:round"/><path d="M364.4,268.7 C371.3,271.7 381.6,269.3 384.9,272.8" style="stroke:#fff;stroke-width:4.0;fill:none;stroke-linecap:round"/>
<ellipse cx="548.8" cy="349.1" rx="2.5" ry="2.4" class="ew"/><ellipse cx="548.8" cy="349.1" rx="1.1" ry="1.1" class="e"/>
<path d="M391.6,299.2 C396.1,304.9 399.2,316.6 391.6,327.9" style="stroke:#1a1a1a;stroke-width:3.7;fill:none;stroke-linecap:round"/><path d="M391.6,299.2 C396.1,304.9 399.2,316.6 391.6,327.9" style="stroke:#fff;stroke-width:2.1;fill:none;stroke-linecap:round"/>
<path d="M451.9,378.9 l13.8,-7.3" class="e"/>
<path d="M434.5,290.8 L431.7,292.3 L434.6,293.8" class="e"/>
<polygon points="442.9,329.5 458.8,337.9 458.8,345.3 442.9,336.9" class="ew"/><polygon points="458.8,337.9 466.1,334.0 466.1,341.5 458.8,345.3" class="ew"/><polygon points="442.9,329.5 458.8,337.9 466.1,334.0 450.2,325.6" class="ew"/>
<path d="M369.2,366.0 L369.2,360.8 L374.8,357.9 L374.8,353.7" class="e"/>
<ellipse cx="398.7" cy="356.8" rx="3.8" ry="2.8" class="ew"/><ellipse cx="398.7" cy="356.8" rx="1.7" ry="1.7" class="e"/>
<path d="M523.8,372.1 C513.4,367.1 513.3,366.3 508.2,356.5" style="stroke:#1a1a1a;stroke-width:3.4;fill:none;stroke-linecap:round"/><path d="M523.8,372.1 C513.4,367.1 513.3,366.3 508.2,356.5" style="stroke:#fff;stroke-width:1.8;fill:none;stroke-linecap:round"/>
<path d="M634.9,428.0 l8.1,-4.3" class="e"/>
<path d="M439.4,345.2 L439.4,337.2 L432.3,341.0 L424.8,344.9 L424.8,333.3" class="e"/>
<polygon points="360.8,299.0 370.0,303.9 370.0,307.4 360.8,302.5" class="ew"/><polygon points="370.0,303.9 374.4,301.6 374.4,305.1 370.0,307.4" class="ew"/><polygon points="360.8,299.0 370.0,303.9 374.4,301.6 365.2,296.7" class="ew"/>
<path d="M355.8,298.0 l13.1,-6.9" class="e"/>
<path d="M319.9,347.3 l0.0,15.9" class="e"/>
<path d="M325.2,271.4 L337.7,264.8 L332.3,267.6" class="e"/>
<path d="M497.3,380.6 C506.0,380.7 522.6,384.7 523.9,385.9" style="stroke:#1a1a1a;stroke-width:4.8;fill:none;stroke-linecap:round"/><path d="M497.3,380.6 C506.0,380.7 522.6,384.7 523.9,385.9" style="stroke:#fff;stroke-width:3.2;fill:none;stroke-linecap:round"/>
<ellipse cx="500.6" cy="410.1" rx="1.7" ry="1.7" class="ew"/><ellipse cx="500.6" cy="410.1" rx="0.8" ry="0.8" class="e"/>
<path d="M340.4,268.8 L340.4,271.6 L337.6,270.1 L342.7,272.8 L348.1,270.0" class="e"/>
<path d="M681.9,440.6 l24.0,-12.7" class="e"/>
<path d="M491.3,376.7 C504.6,383.2 502.7,393.6 509.9,395.2" style="stroke:#1a1a1a;stroke-width:4.7;fill:none;stroke-linecap:round"/><path d="M491.3,376.7 C504.6,383.2 502.7,393.6 509.9,395.2" style="stroke:#fff;stroke-width:3.1;fill:none;stroke-linecap:round"/>
<polygon points="497.3,373.2 505.7,377.7 505.7,381.9 497.3,377.4" class="ew"/><polygon points="505.7,377.7 507.9,376.5 507.9,380.7 505.7,381.9" class="ew"/><polygon points="497.3,373.2 505.7,377.7 507.9,376.5 499.4,372.0" class="ew"/>
<ellipse cx="571.6" cy="408.1" rx="1.6" ry="1.4" class="ew"/><ellipse cx="571.6" cy="408.1" rx="0.7" ry="0.7" class="e"/>
<path d="M341.1,317.5 l0.0,19.2" class="e"/>
<path d="M556.6,364.2 l18.9,10.0" class="e"/>
<path d="M522.5,414.4 C513.0,421.3 506.9,419.5 498.7,427.0" style="stroke:#1a1a1a;stroke-width:3.7;fill:none;stroke-linecap:round"/><path d="M522.5,414.4 C513.0,421.3 506.9,419.5 498.7,427.0" style="stroke:#fff;stroke-width:2.1;fill:none;stroke-linecap:round"/>
<ellipse cx="418.6" cy="351.8" rx="3.5" ry="2.8" class="ew"/><ellipse cx="418.6" cy="351.8" rx="1.6" ry="1.6" class="e"/>
<ellipse cx="567.4" cy="430.3" rx="3.6" ry="3.2" class="ew"/><ellipse cx="567.4" cy="430.3" rx="1.6" ry="1.6" class="e"/>
<polygon points="435.2,294.0 449.3,301.4 449.3,306.3 435.2,298.8" class="ew"/><polygon points="449.3,301.4 455.6,298.1 455.6,302.9 449.3,306.3" class="ew"/><polygon points="435.2,294.0 449.3,301.4 455.6,298.1 441.5,290.6" class="ew"/>
<path d="M587.6,447.2 l6.0,-3.2" class="e"/>
<path d="M387.6,274.9 l18.6,-9.9" class="e"/>
<path d="M401.8,374.4 C405.4,379.4 412.5,393.6 408.2,395.5" style="stroke:#1a1a1a;stroke-width:4.7;fill:none;stroke-linecap:round"/><path d="M401.8,374.4 C405.4,379.4 412.5,393.6 408.2,395.5" style="stroke:#fff;stroke-width:3.1;fill:none;stroke-linecap:round"/>
<path d="M310.0,334.8 L303.7,338.2 L298.8,335.5" class="e"/>
<path d="M600.0,421.0 L600.0,433.2 L610.0,427.9" class="e"/>
<polygon points="330.8,255.2 337.5,258.8 337.5,266.8 330.8,263.3" class="ew"/><polygon points="337.5,258.8 342.2,256.2 342.2,264.3 337.5,266.8" class="ew"/><polygon points="330.8,255.2 337.5,258.8 342.2,256.2 335.5,252.7" class="ew"/>
<path d="M405.0,380.7 L411.9,384.4 L411.9,377.3 L402.0,372.1 L402.0,361.0" class="e"/>
<polygon points="401.5,281.3 405.2,283.3 405.2,290.6 401.5,288.7" class="ew"/><polygon points="405.2,283.3 409.1,281.2 409.1,288.6 405.2,290.6" class="ew"/><polygon points="401.5,281.3 405.2,283.3 409.1,281.2 405.4,279.2" class="ew"/>
<ellipse cx="329.6" cy="297.0" rx="3.3" ry="3.2" class="ew"/><ellipse cx="329.6" cy="297.0" rx="1.5" ry="1.5" class="e"/>
<path d="M492.4,366.6 C488.6,365.9 486.0,348.9 487.0,348.6" style="stroke:#1a1a1a;stroke-width:3.6;fill:none;stroke-linecap:round"/><path d="M492.4,366.6 C488.6,365.9 486.0,348.9 487.0,348.6" style="stroke:#fff;stroke-width:2.0;fill:none;stroke-linecap:round"/>
<path d="M386.6,316.0 l0.0,8.2" class="e"/>
<path d="M561.7,399.4 l0.0,6.5" class="e"/>
<ellipse cx="312.1" cy="296.2" rx="3.6" ry="4.2" class="ew"/><ellipse cx="312.1" cy="296.2" rx="1.6" ry="1.6" class="e"/>
<path d="M303.7,276.1 C305.6,277.4 313.9,279.9 317.7,283.6" style="stroke:#1a1a1a;stroke-width:5.4;fill:none;stroke-linecap:round"/><path d="M303.7,276.1 C305.6,277.4 313.9,279.9 317.7,283.6" style="stroke:#fff;stroke-width:3.8;fill:none;stroke-linecap:round"/>
<ellipse cx="469.7" cy="363.9" rx="1.7" ry="1.9" class="ew"/><ellipse cx="469.7" cy="363.9" rx="0.8" ry="0.8" class="e"/>
<ellipse cx="559.5" cy="363.3" rx="3.6" ry="2.8" class="ew"/><ellipse cx="559.5" cy="363.3" rx="1.6" ry="1.6" class="e"/>
<path d="M499.4,358.1 l21.2,11.2" class="e"/>
<polygon points="355.1,337.4 358.4,339.2 358.4,346.0 355.1,344.3" class="ew"/><polygon points="358.4,339.2 361.1,337.8 361.1,344.6 358.4,346.0" class="ew"/><polygon points="355.1,337.4 358.4,339.2 361.1,337.8 357.8,336.0" class="ew"/>
<path d="M702.1,449.7 C711.0,453.2 702.9,462.8 710.1,476.4" style="stroke:#1a1a1a;stroke-width:3.6;fill:none;stroke-linecap:round"/><path d="M702.1,449.7 C711.0,453.2 702.9,462.8 710.1,476.4" style="stroke:#fff;stroke-width:2.0;fill:none;stroke-linecap:round"/>
<polygon points="701.4,456.9 710.4,461.7 710.4,471.5 701.4,466.7" class="ew"/><polygon points="710.4,461.7 713.3,460.1 713.3,469.9 710.4,471.5" class="ew"/><polygon points="701.4,456.9 710.4,461.7 713.3,460.1 704.3,455.4" class="ew"/>
<ellipse cx="353.4" cy="358.9" rx="3.2" ry="2.9" class="ew"/><ellipse cx="353.4" cy="358.9" rx="1.4" ry="1.4" class="e"/>
<path d="M469.7,331.9 l0.0,10.3" class="e"/>
<polygon points="430.9,344.6 436.2,347.4 436.2,352.6 430.9,349.8" class="ew"/><polygon points="436.2,347.4 442.7,344.0 442.7,349.2 436.2,352.6" class="ew"/><polygon points="430.9,344.6 436.2,347.4 442.7,344.0 437.4,341.2" class="ew"/>
<polygon points="409.1,372.2 414.6,375.2 414.6,379.1 409.1,376.1" class="ew"/><polygon points="414.6,375.2 418.7,373.0 418.7,376.9 414.6,379.1" class="ew"/><polygon points="409.1,372.2 414.6,375.2 418.7,373.0 413.2,370.1" class="ew"/>
<path d="M491.3,334.7 l0.0,24.3" class="e"/>
<path d="M498.3,394.4 l0.0,16.7" class="e"/>
<polygon points="324.9,307.7 330.2,310.5 330.2,314.5 324.9,311.7" class="ew"/><polygon points="330.2,310.5 334.5,308.2 334.5,312.2 330.2,314.5" class="ew"/><polygon points="324.9,307.7 330.2,310.5 334.5,308.2 329.2,305.4" class="ew"/>
<path d="M491.0,321.9 l0.0,10.3" class="e"/>
<path d="M654.8,405.3 C646.2,403.9 630.7,414.6 631.5,417.7" style="stroke:#1a1a1a;stroke-width:4.1;fill:none;stroke-linecap:round"/><path d="M654.8,405.3 C646.2,403.9 630.7,414.6 631.5,417.7" style="stroke:#fff;stroke-width:2.5;fill:none;stroke-linecap:round"/>
<ellipse cx="513.7" cy="359.3" rx="1.9" ry="2.3" class="ew"/><ellipse cx="513.7" cy="359.3" rx="0.9" ry="0.9" class="e"/>
<ellipse cx="420.3" cy="325.7" rx="3.7" ry="3.9" class="ew"/><ellipse cx="420.3" cy="325.7" rx="1.7" ry="1.7" class="e"/>
<path d="M363.9,331.5 C356.6,326.4 356.9,327.6 353.5,321.1" style="stroke:#1a1a1a;stroke-width:4.5;fill:none;stroke-linecap:round"/><path d="M363.9,331.5 C356.6,326.4 356.9,327.6 353.5,321.1" style="stroke:#fff;stroke-width:2.9;fill:none;stroke-linecap:round"/>
<polygon points="483.9,321.2 492.0,325.6 492.0,330.0 483.9,325.7" class="ew"/><polygon points="492.0,325.6 495.6,323.7 495.6,328.1 492.0,330.0" class="ew"/><polygon points="483.9,321.2 492.0,325.6 495.6,323.7 487.4,319.4" class="ew"/>
<path d="M680.1,412.7 l9.5,5.1" class="e"/>
<polygon points="438.7,324.1 450.4,330.3 450.4,342.1 438.7,335.9" class="ew"/><polygon points="450.4,330.3 455.2,327.8 455.2,339.6 450.4,342.1" class="ew"/><polygon points="438.7,324.1 450.4,330.3 455.2,327.8 443.5,321.6" class="ew"/>
</g>
<g clip-path="url(#cz1)">
<path d="M353.3,411.9 l0.0,20.0" class="e"/>
<path d="M490.0,512.5 L490.0,523.5 L479.5,517.9 L468.7,523.7" class="e"/>
<path d="M381.7,432.3 C383.5,434.1 385.7,447.1 381.7,449.1" style="stroke:#1a1a1a;stroke-width:4.4;fill:none;stroke-linecap:round"/><path d="M381.7,432.3 C383.5,434.1 385.7,447.1 381.7,449.1" style="stroke:#fff;stroke-width:2.8;fill:none;stroke-linecap:round"/>
<path d="M512.6,526.9 l21.0,-11.1" class="e"/>
<ellipse cx="405.6" cy="469.7" rx="3.5" ry="3.6" class="ew"/><ellipse cx="405.6" cy="469.7" rx="1.6" ry="1.6" class="e"/>
<path d="M471.0,463.9 l0.0,23.9" class="e"/>
<path d="M536.2,522.7 l20.7,-11.0" class="e"/>
<ellipse cx="506.0" cy="470.6" rx="3.1" ry="3.1" class="ew"/><ellipse cx="506.0" cy="470.6" rx="1.4" ry="1.4" class="e"/>
<ellipse cx="413.3" cy="429.1" rx="3.8" ry="3.9" class="ew"/><ellipse cx="413.3" cy="429.1" rx="1.7" ry="1.7" class="e"/>
<path d="M510.6,527.1 C505.4,523.7 502.5,515.8 487.4,503.8" style="stroke:#1a1a1a;stroke-width:3.2;fill:none;stroke-linecap:round"/><path d="M510.6,527.1 C505.4,523.7 502.5,515.8 487.4,503.8" style="stroke:#fff;stroke-width:1.6;fill:none;stroke-linecap:round"/>
<path d="M372.1,437.2 l23.9,12.7" class="e"/>
<path d="M345.0,435.8 l9.0,4.8" class="e"/>
<polygon points="478.5,511.2 484.5,514.3 484.5,526.4 478.5,523.3" class="ew"/><polygon points="484.5,514.3 495.7,508.4 495.7,520.5 484.5,526.4" class="ew"/><polygon points="478.5,511.2 484.5,514.3 495.7,508.4 489.8,505.2" class="ew"/>
<ellipse cx="454.9" cy="443.2" rx="3.0" ry="2.2" class="ew"/><ellipse cx="454.9" cy="443.2" rx="1.4" ry="1.4" class="e"/>
<path d="M402.0,456.3 l8.9,4.7" class="e"/>
<ellipse cx="525.3" cy="532.7" rx="3.5" ry="3.3" class="ew"/><ellipse cx="525.3" cy="532.7" rx="1.6" ry="1.6" class="e"/>
<path d="M420.1,436.7 L420.1,449.4 L415.5,451.8 L407.2,447.4 L407.2,459.9" class="e"/>
<polygon points="394.6,462.3 404.4,467.5 404.4,477.1 394.6,471.9" class="ew"/><polygon points="404.4,467.5 412.0,463.5 412.0,473.2 404.4,477.1" class="ew"/><polygon points="394.6,462.3 404.4,467.5 412.0,463.5 402.1,458.3" class="ew"/>
<ellipse cx="400.3" cy="459.2" rx="1.5" ry="1.1" class="ew"/><ellipse cx="400.3" cy="459.2" rx="0.7" ry="0.7" class="e"/>
<polygon points="363.4,425.4 369.3,428.6 369.3,432.6 363.4,429.5" class="ew"/><polygon points="369.3,428.6 372.9,426.6 372.9,430.7 369.3,432.6" class="ew"/><polygon points="363.4,425.4 369.3,428.6 372.9,426.6 367.0,423.5" class="ew"/>
<path d="M553.0,534.8 l0.0,14.2" class="e"/>
<path d="M547.1,530.0 l0.0,23.5" class="e"/>
<path d="M483.5,440.5 L483.5,434.4 L492.4,439.2" class="e"/>
<path d="M436.5,468.0 C433.2,463.3 431.7,447.9 436.5,439.5" style="stroke:#1a1a1a;stroke-width:3.3;fill:none;stroke-linecap:round"/><path d="M436.5,468.0 C433.2,463.3 431.7,447.9 436.5,439.5" style="stroke:#fff;stroke-width:1.7;fill:none;stroke-linecap:round"/>
<path d="M367.2,452.3 l8.7,-4.6" class="e"/>
<path d="M368.6,411.3 l18.2,9.6" class="e"/>
<path d="M494.9,508.8 l15.5,-8.2" class="e"/>
<path d="M428.1,467.8 L441.3,460.8 L433.0,465.2 L433.0,458.2 L433.0,447.2" class="e"/>
<path d="M511.0,480.6 C519.0,485.8 524.5,486.1 527.6,483.9" style="stroke:#1a1a1a;stroke-width:4.5;fill:none;stroke-linecap:round"/><path d="M511.0,480.6 C519.0,485.8 524.5,486.1 527.6,483.9" style="stroke:#fff;stroke-width:2.9;fill:none;stroke-linecap:round"/>
<path d="M380.5,440.2 C369.3,443.0 347.6,444.1 341.7,432.4" style="stroke:#1a1a1a;stroke-width:5.5;fill:none;stroke-linecap:round"/><path d="M380.5,440.2 C369.3,443.0 347.6,444.1 341.7,432.4" style="stroke:#fff;stroke-width:3.9;fill:none;stroke-linecap:round"/>
<polygon points="448.3,498.5 463.7,506.6 463.7,513.1 448.3,505.0" class="ew"/><polygon points="463.7,506.6 472.1,502.1 472.1,508.7 463.7,513.1" class="ew"/><polygon points="448.3,498.5 463.7,506.6 472.1,502.1 456.7,494.0" class="ew"/>
<path d="M453.4,456.7 l0.0,23.8" class="e"/>
<ellipse cx="492.3" cy="450.4" rx="3.3" ry="3.8" class="ew"/><ellipse cx="492.3" cy="450.4" rx="1.5" ry="1.5" class="e"/>
<path d="M510.6,474.6 C514.0,482.5 536.3,491.1 535.2,499.2" style="stroke:#1a1a1a;stroke-width:4.1;fill:none;stroke-linecap:round"/><path d="M510.6,474.6 C514.0,482.5 536.3,491.1 535.2,499.2" style="stroke:#fff;stroke-width:2.5;fill:none;stroke-linecap:round"/>
<polygon points="381.7,413.2 387.8,416.5 387.8,420.0 381.7,416.7" class="ew"/><polygon points="387.8,416.5 391.1,414.7 391.1,418.3 387.8,420.0" class="ew"/><polygon points="381.7,413.2 387.8,416.5 391.1,414.7 384.9,411.5" class="ew"/>
<path d="M476.4,468.6 l0.0,6.2" class="e"/>
<ellipse cx="442.1" cy="435.5" rx="2.7" ry="2.1" class="ew"/><ellipse cx="442.1" cy="435.5" rx="1.2" ry="1.2" class="e"/>
<path d="M536.7,492.2 l0.0,15.2" class="e"/>
<path d="M546.2,464.4 L556.8,470.1 L563.2,466.7 L563.2,461.4" class="e"/>
<polygon points="429.7,465.1 434.0,467.3 434.0,470.5 429.7,468.2" class="ew"/><polygon points="434.0,467.3 438.0,465.2 438.0,468.4 434.0,470.5" class="ew"/><polygon points="429.7,465.1 434.0,467.3 438.0,465.2 433.7,462.9" class="ew"/>
<ellipse cx="466.4" cy="453.5" rx="3.7" ry="3.1" class="ew"/><ellipse cx="466.4" cy="453.5" rx="1.7" ry="1.7" class="e"/>
<ellipse cx="492.5" cy="467.7" rx="3.8" ry="2.8" class="ew"/><ellipse cx="492.5" cy="467.7" rx="1.7" ry="1.7" class="e"/>
<path d="M491.9,511.4 l13.5,7.1" class="e"/>
<path d="M459.5,429.5 l22.1,11.7" class="e"/>
<polygon points="527.5,488.0 533.1,491.0 533.1,495.0 527.5,492.0" class="ew"/><polygon points="533.1,491.0 535.8,489.6 535.8,493.5 533.1,495.0" class="ew"/><polygon points="527.5,488.0 533.1,491.0 535.8,489.6 530.2,486.6" class="ew"/>
<path d="M425.7,444.6 C432.4,440.6 446.0,455.3 450.0,449.4" style="stroke:#1a1a1a;stroke-width:3.5;fill:none;stroke-linecap:round"/><path d="M425.7,444.6 C432.4,440.6 446.0,455.3 450.0,449.4" style="stroke:#fff;stroke-width:1.9;fill:none;stroke-linecap:round"/>
<path d="M390.7,438.2 C391.6,438.1 400.9,451.4 416.8,464.3" style="stroke:#1a1a1a;stroke-width:4.3;fill:none;stroke-linecap:round"/><path d="M390.7,438.2 C391.6,438.1 400.9,451.4 416.8,464.3" style="stroke:#fff;stroke-width:2.7;fill:none;stroke-linecap:round"/>
<path d="M469.4,452.9 l20.2,-10.7" class="e"/>
<ellipse cx="546.5" cy="529.6" rx="3.2" ry="3.8" class="ew"/><ellipse cx="546.5" cy="529.6" rx="1.5" ry="1.5" class="e"/>
<path d="M514.5,505.1 L525.6,499.3 L516.3,494.3 L524.4,498.6 L534.9,493.1" class="e"/>
<path d="M422.4,450.3 L417.2,453.1 L417.2,443.9 L417.2,429.3 L402.4,421.5" class="e"/>
<polygon points="373.4,428.6 378.9,431.5 378.9,436.3 373.4,433.4" class="ew"/><polygon points="378.9,431.5 382.9,429.4 382.9,434.2 378.9,436.3" class="ew"/><polygon points="373.4,428.6 378.9,431.5 382.9,429.4 377.4,426.5" class="ew"/>
<path d="M419.1,452.2 l7.2,3.8" class="e"/>
<ellipse cx="381.7" cy="408.8" rx="2.2" ry="1.9" class="ew"/><ellipse cx="381.7" cy="408.8" rx="1.0" ry="1.0" class="e"/>
<path d="M492.3,499.5 L485.2,503.3 L491.1,500.1" class="e"/>
<polygon points="496.2,469.4 502.6,472.8 502.6,480.9 496.2,477.5" class="ew"/><polygon points="502.6,472.8 508.0,469.9 508.0,478.0 502.6,480.9" class="ew"/><polygon points="496.2,469.4 502.6,472.8 508.0,469.9 501.6,466.5" class="ew"/>
<path d="M556.5,470.0 C546.2,463.1 540.6,453.7 540.2,453.7" style="stroke:#1a1a1a;stroke-width:4.2;fill:none;stroke-linecap:round"/><path d="M556.5,470.0 C546.2,463.1 540.6,453.7 540.2,453.7" style="stroke:#fff;stroke-width:2.6;fill:none;stroke-linecap:round"/>
<path d="M568.3,490.9 C546.9,493.1 543.7,475.7 531.9,483.6" style="stroke:#1a1a1a;stroke-width:3.7;fill:none;stroke-linecap:round"/><path d="M568.3,490.9 C546.9,493.1 543.7,475.7 531.9,483.6" style="stroke:#fff;stroke-width:2.1;fill:none;stroke-linecap:round"/>
<polygon points="464.2,433.4 468.4,435.6 468.4,439.1 464.2,436.9" class="ew"/><polygon points="468.4,435.6 470.3,434.6 470.3,438.1 468.4,439.1" class="ew"/><polygon points="464.2,433.4 468.4,435.6 470.3,434.6 466.1,432.4" class="ew"/>
<path d="M527.5,486.2 l0.0,12.4" class="e"/>
<path d="M541.8,526.6 l0.0,15.6" class="e"/>
<path d="M378.3,414.8 l17.9,9.5" class="e"/>
<polygon points="380.8,428.3 384.0,430.0 384.0,433.6 380.8,431.9" class="ew"/><polygon points="384.0,430.0 386.7,428.6 386.7,432.2 384.0,433.6" class="ew"/><polygon points="380.8,428.3 384.0,430.0 386.7,428.6 383.4,426.8" class="ew"/>
<polygon points="363.3,414.0 371.5,418.3 371.5,425.0 363.3,420.7" class="ew"/><polygon points="371.5,418.3 375.5,416.1 375.5,422.9 371.5,425.0" class="ew"/><polygon points="363.3,414.0 371.5,418.3 375.5,416.1 367.4,411.8" class="ew"/>
<path d="M466.8,503.1 L466.8,507.7 L470.4,509.6" class="e"/>
<path d="M555.5,506.8 C543.4,506.3 543.8,487.2 533.4,484.7" style="stroke:#1a1a1a;stroke-width:5.3;fill:none;stroke-linecap:round"/><path d="M555.5,506.8 C543.4,506.3 543.8,487.2 533.4,484.7" style="stroke:#fff;stroke-width:3.7;fill:none;stroke-linecap:round"/>
<polygon points="552.1,479.7 561.0,484.4 561.0,492.1 552.1,487.4" class="ew"/><polygon points="561.0,484.4 565.5,482.0 565.5,489.7 561.0,492.1" class="ew"/><polygon points="552.1,479.7 561.0,484.4 565.5,482.0 556.6,477.2" class="ew"/>
<ellipse cx="390.4" cy="446.7" rx="2.5" ry="2.4" class="ew"/><ellipse cx="390.4" cy="446.7" rx="1.1" ry="1.1" class="e"/>
<path d="M521.5,497.1 l14.5,-7.7" class="e"/>
<path d="M484.0,486.1 l14.5,-7.7" class="e"/>
<path d="M487.2,466.0 l0.0,18.4" class="e"/>
<polygon points="547.9,495.5 555.5,499.5 555.5,501.8 547.9,497.8" class="ew"/><polygon points="555.5,499.5 558.4,498.0 558.4,500.3 555.5,501.8" class="ew"/><polygon points="547.9,495.5 555.5,499.5 558.4,498.0 550.8,494.0" class="ew"/>
<polygon points="413.6,444.7 421.8,449.0 421.8,457.0 413.6,452.7" class="ew"/><polygon points="421.8,449.0 427.8,445.9 427.8,453.9 421.8,457.0" class="ew"/><polygon points="413.6,444.7 421.8,449.0 427.8,445.9 419.5,441.5" class="ew"/>
<path d="M491.6,469.4 l23.4,12.4" class="e"/>
<path d="M432.1,456.9 l16.7,-8.8" class="e"/>
<ellipse cx="486.0" cy="454.8" rx="3.9" ry="3.5" class="ew"/><ellipse cx="486.0" cy="454.8" rx="1.8" ry="1.8" class="e"/>
<polygon points="451.6,453.2 457.6,456.4 457.6,459.2 451.6,456.0" class="ew"/><polygon points="457.6,456.4 462.6,453.7 462.6,456.5 457.6,459.2" class="ew"/><polygon points="451.6,453.2 457.6,456.4 462.6,453.7 456.6,450.5" class="ew"/>
<path d="M562.2,494.4 C556.9,482.6 564.3,473.0 553.1,464.0" style="stroke:#1a1a1a;stroke-width:4.1;fill:none;stroke-linecap:round"/><path d="M562.2,494.4 C556.9,482.6 564.3,473.0 553.1,464.0" style="stroke:#fff;stroke-width:2.5;fill:none;stroke-linecap:round"/>
<path d="M346.9,405.8 l9.9,5.3" class="e"/>
<path d="M466.4,486.2 l23.9,12.7" class="e"/>
<path d="M490.7,475.7 l0.0,8.6" class="e"/>
<path d="M372.9,443.5 l0.0,15.0" class="e"/>
<path d="M423.5,447.6 L423.5,436.9 L423.5,430.4" class="e"/>
<polygon points="442.0,488.7 454.2,495.1 454.2,507.7 442.0,501.2" class="ew"/><polygon points="454.2,495.1 458.2,493.0 458.2,505.6 454.2,507.7" class="ew"/><polygon points="442.0,488.7 454.2,495.1 458.2,493.0 446.0,486.6" class="ew"/>
<path d="M502.2,470.9 l14.1,7.5" class="e"/>
<path d="M567.1,515.8 l11.6,6.1" class="e"/>
<polygon points="558.4,527.8 563.5,530.5 563.5,534.5 558.4,531.8" class="ew"/><polygon points="563.5,530.5 570.1,527.0 570.1,531.0 563.5,534.5" class="ew"/><polygon points="558.4,527.8 563.5,530.5 570.1,527.0 565.0,524.3" class="ew"/>
<polygon points="540.4,481.5 552.7,488.0 552.7,494.8 540.4,488.3" class="ew"/><polygon points="552.7,488.0 560.5,483.9 560.5,490.7 552.7,494.8" class="ew"/><polygon points="540.4,481.5 552.7,488.0 560.5,483.9 548.2,477.4" class="ew"/>
<path d="M562.3,483.9 l22.5,-11.9" class="e"/>
<path d="M370.0,449.1 C365.8,451.6 353.8,427.5 347.6,426.7" style="stroke:#1a1a1a;stroke-width:5.5;fill:none;stroke-linecap:round"/><path d="M370.0,449.1 C365.8,451.6 353.8,427.5 347.6,426.7" style="stroke:#fff;stroke-width:3.9;fill:none;stroke-linecap:round"/>
<path d="M536.4,459.7 L540.9,457.3 L536.8,455.2 L536.8,449.6 L536.8,452.7" class="e"/>
<path d="M377.5,440.3 L377.5,432.5 L377.5,424.8" class="e"/>
<ellipse cx="441.7" cy="464.6" rx="1.7" ry="1.8" class="ew"/><ellipse cx="441.7" cy="464.6" rx="0.8" ry="0.8" class="e"/>
<path d="M535.8,463.4 L548.7,456.5 L554.6,459.7 L554.6,453.5 L554.6,467.1" class="e"/>
<path d="M474.0,456.7 l20.9,-11.1" class="e"/>
<polygon points="497.5,493.4 501.6,495.6 501.6,501.4 497.5,499.2" class="ew"/><polygon points="501.6,495.6 503.3,494.8 503.3,500.6 501.6,501.4" class="ew"/><polygon points="497.5,493.4 501.6,495.6 503.3,494.8 499.2,492.6" class="ew"/>
<path d="M425.2,484.7 l9.4,-5.0" class="e"/>
<ellipse cx="524.0" cy="473.8" rx="3.1" ry="2.5" class="ew"/><ellipse cx="524.0" cy="473.8" rx="1.4" ry="1.4" class="e"/>
<polygon points="548.0,484.5 552.1,486.6 552.1,489.3 548.0,487.1" class="ew"/><polygon points="552.1,486.6 557.2,483.9 557.2,486.6 552.1,489.3" class="ew"/><polygon points="548.0,484.5 552.1,486.6 557.2,483.9 553.1,481.7" class="ew"/>
<path d="M435.4,491.2 l6.1,-3.2" class="e"/>
<polygon points="490.1,480.5 496.1,483.7 496.1,494.6 490.1,491.5" class="ew"/><polygon points="496.1,483.7 500.6,481.2 500.6,492.2 496.1,494.6" class="ew"/><polygon points="490.1,480.5 496.1,483.7 500.6,481.2 494.7,478.1" class="ew"/>
<ellipse cx="473.5" cy="501.7" rx="2.2" ry="2.1" class="ew"/><ellipse cx="473.5" cy="501.7" rx="1.0" ry="1.0" class="e"/>
<path d="M474.7,433.8 l24.6,13.1" class="e"/>
<path d="M550.3,475.5 l17.9,9.5" class="e"/>
<path d="M477.7,433.3 L481.8,435.5 L481.8,428.4 L491.9,433.8 L503.0,439.6" class="e"/>
<path d="M383.4,455.4 l6.2,3.3" class="e"/>
<ellipse cx="529.2" cy="523.1" rx="3.9" ry="2.9" class="ew"/><ellipse cx="529.2" cy="523.1" rx="1.8" ry="1.8" class="e"/>
<path d="M477.9,465.0 C472.3,464.0 470.9,463.0 466.3,458.8" style="stroke:#1a1a1a;stroke-width:3.9;fill:none;stroke-linecap:round"/><path d="M477.9,465.0 C472.3,464.0 470.9,463.0 466.3,458.8" style="stroke:#fff;stroke-width:2.3;fill:none;stroke-linecap:round"/>
<path d="M491.6,519.0 C478.7,503.9 475.2,514.6 458.2,501.3" style="stroke:#1a1a1a;stroke-width:3.2;fill:none;stroke-linecap:round"/><path d="M491.6,519.0 C478.7,503.9 475.2,514.6 458.2,501.3" style="stroke:#fff;stroke-width:1.6;fill:none;stroke-linecap:round"/>
<path d="M565.0,500.5 C562.2,492.6 552.7,494.0 553.9,489.4" style="stroke:#1a1a1a;stroke-width:4.2;fill:none;stroke-linecap:round"/><path d="M565.0,500.5 C562.2,492.6 552.7,494.0 553.9,489.4" style="stroke:#fff;stroke-width:2.6;fill:none;stroke-linecap:round"/>
<path d="M509.1,520.6 l0.0,8.6" class="e"/>
<polygon points="455.9,458.4 463.3,462.3 463.3,467.5 455.9,463.5" class="ew"/><polygon points="463.3,462.3 471.9,457.8 471.9,462.9 463.3,467.5" class="ew"/><polygon points="455.9,458.4 463.3,462.3 471.9,457.8 464.5,453.9" class="ew"/>
<path d="M361.1,420.0 L361.1,430.7 L366.5,433.6 L366.5,444.8" class="e"/>
<path d="M545.6,493.4 C545.6,485.5 553.3,472.8 545.6,463.2" style="stroke:#1a1a1a;stroke-width:3.2;fill:none;stroke-linecap:round"/><path d="M545.6,493.4 C545.6,485.5 553.3,472.8 545.6,463.2" style="stroke:#fff;stroke-width:1.6;fill:none;stroke-linecap:round"/>
<path d="M513.3,488.7 l19.3,10.2" class="e"/>
<path d="M495.5,487.0 l16.2,-8.6" class="e"/>
<path d="M370.4,433.2 l18.8,-10.0" class="e"/>
<polygon points="365.1,432.5 372.7,436.5 372.7,441.2 365.1,437.2" class="ew"/><polygon points="372.7,436.5 378.6,433.4 378.6,438.1 372.7,441.2" class="ew"/><polygon points="365.1,432.5 372.7,436.5 378.6,433.4 371.0,429.4" class="ew"/>
<polygon points="470.4,447.3 477.8,451.3 477.8,457.6 470.4,453.6" class="ew"/><polygon points="477.8,451.3 482.7,448.7 482.7,455.0 477.8,457.6" class="ew"/><polygon points="470.4,447.3 477.8,451.3 482.7,448.7 475.2,444.7" class="ew"/>
<path d="M380.3,421.1 C368.8,413.3 362.0,413.6 362.3,411.6" style="stroke:#1a1a1a;stroke-width:4.2;fill:none;stroke-linecap:round"/><path d="M380.3,421.1 C368.8,413.3 362.0,413.6 362.3,411.6" style="stroke:#fff;stroke-width:2.6;fill:none;stroke-linecap:round"/>
<path d="M532.4,518.7 C529.6,515.1 521.0,492.8 522.1,484.3" style="stroke:#1a1a1a;stroke-width:5.1;fill:none;stroke-linecap:round"/><path d="M532.4,518.7 C529.6,515.1 521.0,492.8 522.1,484.3" style="stroke:#fff;stroke-width:3.5;fill:none;stroke-linecap:round"/>
<polygon points="463.9,480.5 466.2,481.7 466.2,487.6 463.9,486.3" class="ew"/><polygon points="466.2,481.7 470.5,479.4 470.5,485.3 466.2,487.6" class="ew"/><polygon points="463.9,480.5 466.2,481.7 470.5,479.4 468.2,478.2" class="ew"/>
<ellipse cx="537.0" cy="470.2" rx="3.1" ry="2.4" class="ew"/><ellipse cx="537.0" cy="470.2" rx="1.4" ry="1.4" class="e"/>
<path d="M548.9,471.1 L542.1,474.7 L542.1,471.6" class="e"/>
<path d="M469.9,461.0 C479.1,461.8 489.6,459.5 490.2,450.3" style="stroke:#1a1a1a;stroke-width:5.0;fill:none;stroke-linecap:round"/><path d="M469.9,461.0 C479.1,461.8 489.6,459.5 490.2,450.3" style="stroke:#fff;stroke-width:3.4;fill:none;stroke-linecap:round"/>
<polygon points="457.9,435.7 461.1,437.4 461.1,442.3 457.9,440.6" class="ew"/><polygon points="461.1,437.4 465.6,435.0 465.6,439.9 461.1,442.3" class="ew"/><polygon points="457.9,435.7 461.1,437.4 465.6,435.0 462.4,433.3" class="ew"/>
<path d="M416.1,441.0 L410.2,444.1 L416.7,440.6 L426.9,435.2" class="e"/>
<polygon points="438.2,431.7 444.2,434.8 444.2,441.4 438.2,438.2" class="ew"/><polygon points="444.2,434.8 451.6,430.9 451.6,437.5 444.2,441.4" class="ew"/><polygon points="438.2,431.7 444.2,434.8 451.6,430.9 445.6,427.7" class="ew"/>
<path d="M525.5,458.7 l0.0,24.4" class="e"/>
<ellipse cx="473.0" cy="475.4" rx="3.2" ry="3.5" class="ew"/><ellipse cx="473.0" cy="475.4" rx="1.4" ry="1.4" class="e"/>
<path d="M501.7,446.2 l7.5,4.0" class="e"/>
<path d="M509.4,518.6 l22.9,12.1" class="e"/>
<path d="M376.4,441.3 C369.3,453.3 379.5,465.2 376.4,471.4" style="stroke:#1a1a1a;stroke-width:3.1;fill:none;stroke-linecap:round"/><path d="M376.4,441.3 C369.3,453.3 379.5,465.2 376.4,471.4" style="stroke:#fff;stroke-width:1.5;fill:none;stroke-linecap:round"/>
<path d="M436.7,433.1 L425.8,438.9 L432.1,435.6 L439.6,439.5 L439.6,453.5" class="e"/>
<polygon points="369.0,428.0 372.9,430.1 372.9,436.9 369.0,434.9" class="ew"/><polygon points="372.9,430.1 377.9,427.4 377.9,434.3 372.9,436.9" class="ew"/><polygon points="369.0,428.0 372.9,430.1 377.9,427.4 374.0,425.4" class="ew"/>
<ellipse cx="411.9" cy="452.0" rx="3.9" ry="3.3" class="ew"/><ellipse cx="411.9" cy="452.0" rx="1.7" ry="1.7" class="e"/>
<path d="M495.7,507.1 L495.7,514.3 L512.1,505.6 L512.1,515.9 L495.8,507.3" class="e"/>
<path d="M359.1,420.0 C360.1,422.5 361.4,432.6 365.5,441.6" style="stroke:#1a1a1a;stroke-width:4.3;fill:none;stroke-linecap:round"/><path d="M359.1,420.0 C360.1,422.5 361.4,432.6 365.5,441.6" style="stroke:#fff;stroke-width:2.7;fill:none;stroke-linecap:round"/>
<path d="M450.7,445.6 C430.7,439.0 427.5,427.0 417.5,428.0" style="stroke:#1a1a1a;stroke-width:3.2;fill:none;stroke-linecap:round"/><path d="M450.7,445.6 C430.7,439.0 427.5,427.0 417.5,428.0" style="stroke:#fff;stroke-width:1.6;fill:none;stroke-linecap:round"/>
<path d="M397.0,410.8 C395.2,397.7 397.6,389.0 390.4,388.9" style="stroke:#1a1a1a;stroke-width:4.1;fill:none;stroke-linecap:round"/><path d="M397.0,410.8 C395.2,397.7 397.6,389.0 390.4,388.9" style="stroke:#fff;stroke-width:2.5;fill:none;stroke-linecap:round"/>
<path d="M387.0,431.7 L390.7,429.8 L383.0,425.7 L383.0,419.1 L391.5,423.6" class="e"/>
<ellipse cx="552.8" cy="512.2" rx="1.5" ry="1.8" class="ew"/><ellipse cx="552.8" cy="512.2" rx="0.7" ry="0.7" class="e"/>
<path d="M503.1,509.6 L507.6,511.9 L500.4,515.8" class="e"/>
<polygon points="428.5,482.2 438.7,487.6 438.7,499.1 428.5,493.6" class="ew"/><polygon points="438.7,487.6 445.7,483.9 445.7,495.4 438.7,499.1" class="ew"/><polygon points="428.5,482.2 438.7,487.6 445.7,483.9 435.5,478.5" class="ew"/>
<path d="M447.9,460.1 l0.0,18.7" class="e"/>
<path d="M469.9,477.5 l0.0,22.9" class="e"/>
<polygon points="403.2,463.1 413.8,468.8 413.8,481.2 403.2,475.6" class="ew"/><polygon points="413.8,468.8 419.2,465.9 419.2,478.4 413.8,481.2" class="ew"/><polygon points="403.2,463.1 413.8,468.8 419.2,465.9 408.6,460.2" class="ew"/>
<path d="M531.7,507.1 L536.2,509.5 L544.1,505.3" class="e"/>
<ellipse cx="553.1" cy="499.8" rx="3.6" ry="2.8" class="ew"/><ellipse cx="553.1" cy="499.8" rx="1.6" ry="1.6" class="e"/>
<path d="M438.2,434.3 l20.6,10.9" class="e"/>
</g>
<g clip-path="url(#cz2)">
<polygon points="624.8,353.3 627.8,354.8 627.8,361.7 624.8,360.2" class="ew"/><polygon points="627.8,354.8 630.8,353.2 630.8,360.1 627.8,361.7" class="ew"/><polygon points="624.8,353.3 627.8,354.8 630.8,353.2 627.8,351.6" class="ew"/>
<polygon points="684.0,406.2 690.5,409.6 690.5,413.8 684.0,410.4" class="ew"/><polygon points="690.5,409.6 694.0,407.8 694.0,412.0 690.5,413.8" class="ew"/><polygon points="684.0,406.2 690.5,409.6 694.0,407.8 687.5,404.4" class="ew"/>
<path d="M687.0,409.5 l9.7,-5.1" class="e"/>
<polygon points="700.9,412.9 709.9,417.7 709.9,424.6 700.9,419.9" class="ew"/><polygon points="709.9,417.7 716.1,414.4 716.1,421.4 709.9,424.6" class="ew"/><polygon points="700.9,412.9 709.9,417.7 716.1,414.4 707.0,409.6" class="ew"/>
<path d="M626.0,367.4 L621.0,370.1 L621.0,383.7 L621.0,376.9 L611.7,381.7" class="e"/>
<path d="M632.0,410.0 C633.2,415.6 629.2,420.7 632.0,423.3" style="stroke:#1a1a1a;stroke-width:4.7;fill:none;stroke-linecap:round"/><path d="M632.0,410.0 C633.2,415.6 629.2,420.7 632.0,423.3" style="stroke:#fff;stroke-width:3.1;fill:none;stroke-linecap:round"/>
<path d="M666.7,380.3 C677.7,379.6 672.3,388.3 683.8,397.4" style="stroke:#1a1a1a;stroke-width:4.6;fill:none;stroke-linecap:round"/><path d="M666.7,380.3 C677.7,379.6 672.3,388.3 683.8,397.4" style="stroke:#fff;stroke-width:3.0;fill:none;stroke-linecap:round"/>
<polygon points="680.3,394.2 684.8,396.6 684.8,399.6 680.3,397.2" class="ew"/><polygon points="684.8,396.6 689.0,394.4 689.0,397.4 684.8,399.6" class="ew"/><polygon points="680.3,394.2 684.8,396.6 689.0,394.4 684.5,392.0" class="ew"/>
<path d="M673.2,416.7 L665.6,412.6 L653.7,406.3 L653.7,395.4" class="e"/>
<polygon points="664.9,416.5 671.5,420.0 671.5,425.9 664.9,422.4" class="ew"/><polygon points="671.5,420.0 673.9,418.7 673.9,424.6 671.5,425.9" class="ew"/><polygon points="664.9,416.5 671.5,420.0 673.9,418.7 667.3,415.2" class="ew"/>
<polygon points="638.1,381.4 653.8,389.7 653.8,398.4 638.1,390.1" class="ew"/><polygon points="653.8,389.7 661.1,385.8 661.1,394.5 653.8,398.4" class="ew"/><polygon points="638.1,381.4 653.8,389.7 661.1,385.8 645.5,377.5" class="ew"/>
<path d="M611.9,350.0 l17.3,9.2" class="e"/>
</g>
<g clip-path="url(#cz3)">
<path d="M556.7,547.9 l0.0,23.9" class="e"/>
<path d="M558.9,525.7 l20.7,11.0" class="e"/>
<path d="M558.7,564.6 C552.7,560.9 552.2,542.9 551.5,540.5" style="stroke:#1a1a1a;stroke-width:3.7;fill:none;stroke-linecap:round"/><path d="M558.7,564.6 C552.7,560.9 552.2,542.9 551.5,540.5" style="stroke:#fff;stroke-width:2.1;fill:none;stroke-linecap:round"/>
<path d="M575.1,510.9 l0.0,7.4" class="e"/>
<path d="M556.3,483.3 C558.7,470.9 574.8,464.8 588.5,466.3" style="stroke:#1a1a1a;stroke-width:3.6;fill:none;stroke-linecap:round"/><path d="M556.3,483.3 C558.7,470.9 574.8,464.8 588.5,466.3" style="stroke:#fff;stroke-width:2.0;fill:none;stroke-linecap:round"/>
<path d="M575.7,535.7 C560.9,525.6 540.5,520.1 537.3,528.0" style="stroke:#1a1a1a;stroke-width:3.6;fill:none;stroke-linecap:round"/><path d="M575.7,535.7 C560.9,525.6 540.5,520.1 537.3,528.0" style="stroke:#fff;stroke-width:2.0;fill:none;stroke-linecap:round"/>
<path d="M532.6,533.3 C529.0,527.7 526.7,511.1 532.6,502.3" style="stroke:#1a1a1a;stroke-width:3.9;fill:none;stroke-linecap:round"/><path d="M532.6,533.3 C529.0,527.7 526.7,511.1 532.6,502.3" style="stroke:#fff;stroke-width:2.3;fill:none;stroke-linecap:round"/>
<path d="M523.2,496.9 L528.8,493.9 L538.3,488.9 L532.4,492.0" class="e"/>
<polygon points="580.7,506.2 591.1,511.7 591.1,521.1 580.7,515.6" class="ew"/><polygon points="591.1,511.7 594.2,510.1 594.2,519.5 591.1,521.1" class="ew"/><polygon points="580.7,506.2 591.1,511.7 594.2,510.1 583.7,504.5" class="ew"/>
<path d="M569.8,560.3 C566.6,563.7 564.6,591.9 569.8,598.8" style="stroke:#1a1a1a;stroke-width:3.3;fill:none;stroke-linecap:round"/><path d="M569.8,560.3 C566.6,563.7 564.6,591.9 569.8,598.8" style="stroke:#fff;stroke-width:1.7;fill:none;stroke-linecap:round"/>
<polygon points="516.9,542.0 528.6,548.2 528.6,555.6 516.9,549.4" class="ew"/><polygon points="528.6,548.2 537.0,543.8 537.0,551.2 528.6,555.6" class="ew"/><polygon points="516.9,542.0 528.6,548.2 537.0,543.8 525.3,537.6" class="ew"/>
<path d="M546.3,545.6 C540.3,547.2 527.7,534.8 520.8,532.1" style="stroke:#1a1a1a;stroke-width:5.4;fill:none;stroke-linecap:round"/><path d="M546.3,545.6 C540.3,547.2 527.7,534.8 520.8,532.1" style="stroke:#fff;stroke-width:3.8;fill:none;stroke-linecap:round"/>
<path d="M512.5,521.8 l0.0,8.5" class="e"/>
<path d="M552.3,483.9 L546.2,487.2 L540.7,490.1" class="e"/>
<ellipse cx="546.6" cy="546.6" rx="2.2" ry="2.0" class="ew"/><ellipse cx="546.6" cy="546.6" rx="1.0" ry="1.0" class="e"/>
<path d="M521.0,509.6 L506.1,517.5 L514.5,513.0 L514.5,522.4 L527.5,515.5" class="e"/>
<path d="M567.0,508.2 l11.3,-6.0" class="e"/>
<path d="M535.5,488.8 l15.0,-8.0" class="e"/>
<polygon points="534.4,498.7 543.8,503.7 543.8,509.1 534.4,504.1" class="ew"/><polygon points="543.8,503.7 548.2,501.4 548.2,506.8 543.8,509.1" class="ew"/><polygon points="534.4,498.7 543.8,503.7 548.2,501.4 538.8,496.4" class="ew"/>
<polygon points="535.9,568.4 543.6,572.5 543.6,582.2 535.9,578.1" class="ew"/><polygon points="543.6,572.5 553.9,567.0 553.9,576.7 543.6,582.2" class="ew"/><polygon points="535.9,568.4 543.6,572.5 553.9,567.0 546.2,563.0" class="ew"/>
<path d="M537.3,505.1 C536.8,521.5 542.5,538.2 537.3,544.6" style="stroke:#1a1a1a;stroke-width:3.6;fill:none;stroke-linecap:round"/><path d="M537.3,505.1 C536.8,521.5 542.5,538.2 537.3,544.6" style="stroke:#fff;stroke-width:2.0;fill:none;stroke-linecap:round"/>
<path d="M522.9,551.9 l18.6,-9.9" class="e"/>
<path d="M532.7,528.1 L528.8,526.0 L528.8,530.1" class="e"/>
<path d="M523.5,545.4 L508.2,537.3 L519.0,543.0" class="e"/>
<path d="M541.2,506.9 l7.4,3.9" class="e"/>
<polygon points="510.0,512.6 514.5,514.9 514.5,520.6 510.0,518.2" class="ew"/><polygon points="514.5,514.9 520.9,511.5 520.9,517.2 514.5,520.6" class="ew"/><polygon points="510.0,512.6 514.5,514.9 520.9,511.5 516.5,509.2" class="ew"/>
<path d="M512.7,534.4 C507.9,520.5 505.7,517.2 504.9,508.3" style="stroke:#1a1a1a;stroke-width:3.9;fill:none;stroke-linecap:round"/><path d="M512.7,534.4 C507.9,520.5 505.7,517.2 504.9,508.3" style="stroke:#fff;stroke-width:2.3;fill:none;stroke-linecap:round"/>
<path d="M550.4,519.1 C557.9,513.9 569.8,504.8 570.5,508.4" style="stroke:#1a1a1a;stroke-width:4.3;fill:none;stroke-linecap:round"/><path d="M550.4,519.1 C557.9,513.9 569.8,504.8 570.5,508.4" style="stroke:#fff;stroke-width:2.7;fill:none;stroke-linecap:round"/>
<path d="M518.1,529.4 l0.0,8.7" class="e"/>
<ellipse cx="575.7" cy="529.3" rx="3.9" ry="3.7" class="ew"/><ellipse cx="575.7" cy="529.3" rx="1.8" ry="1.8" class="e"/>
<polygon points="546.0,544.4 553.1,548.2 553.1,560.5 546.0,556.7" class="ew"/><polygon points="553.1,548.2 560.9,544.0 560.9,556.4 553.1,560.5" class="ew"/><polygon points="546.0,544.4 553.1,548.2 560.9,544.0 553.7,540.3" class="ew"/>
<path d="M532.6,496.4 C521.6,488.5 543.2,463.6 532.6,457.9" style="stroke:#1a1a1a;stroke-width:3.9;fill:none;stroke-linecap:round"/><path d="M532.6,496.4 C521.6,488.5 543.2,463.6 532.6,457.9" style="stroke:#fff;stroke-width:2.3;fill:none;stroke-linecap:round"/>
<polygon points="513.0,484.3 521.3,488.7 521.3,495.6 513.0,491.2" class="ew"/><polygon points="521.3,488.7 525.0,486.8 525.0,493.6 521.3,495.6" class="ew"/><polygon points="513.0,484.3 521.3,488.7 525.0,486.8 516.7,482.4" class="ew"/>
<path d="M512.8,521.5 l19.7,-10.4" class="e"/>
<ellipse cx="532.0" cy="533.8" rx="3.1" ry="3.1" class="ew"/><ellipse cx="532.0" cy="533.8" rx="1.4" ry="1.4" class="e"/>
</g>
<g clip-path="url(#cz4)">
<path d="M316.7,236.8 l0.0,7.4" class="e"/>
<path d="M301.3,279.1 L296.2,281.8 L296.2,286.9" class="e"/>
<path d="M303.3,243.9 l0.0,24.0" class="e"/>
<polygon points="334.2,226.9 339.6,229.7 339.6,237.6 334.2,234.8" class="ew"/><polygon points="339.6,229.7 344.6,227.0 344.6,235.0 339.6,237.6" class="ew"/><polygon points="334.2,226.9 339.6,229.7 344.6,227.0 339.2,224.2" class="ew"/>
<path d="M333.3,276.9 l0.0,8.0" class="e"/>
<ellipse cx="337.8" cy="258.5" rx="1.7" ry="1.2" class="ew"/><ellipse cx="337.8" cy="258.5" rx="0.7" ry="0.7" class="e"/>
<polygon points="308.8,288.7 315.9,292.4 315.9,297.0 308.8,293.2" class="ew"/><polygon points="315.9,292.4 319.9,290.3 319.9,294.9 315.9,297.0" class="ew"/><polygon points="308.8,288.7 315.9,292.4 319.9,290.3 312.8,286.5" class="ew"/>
<polygon points="348.2,290.5 357.0,295.2 357.0,304.9 348.2,300.2" class="ew"/><polygon points="357.0,295.2 364.9,291.0 364.9,300.7 357.0,304.9" class="ew"/><polygon points="348.2,290.5 357.0,295.2 364.9,291.0 356.1,286.3" class="ew"/>
<path d="M302.9,263.0 l8.9,-4.7" class="e"/>
<path d="M300.2,276.7 l21.5,-11.4" class="e"/>
<path d="M341.6,280.2 l14.7,7.8" class="e"/>
<path d="M358.3,268.5 l0.0,7.2" class="e"/>
<path d="M315.7,278.6 l0.0,14.5" class="e"/>
<path d="M320.8,287.5 C310.0,280.8 309.0,277.8 298.8,275.9" style="stroke:#1a1a1a;stroke-width:3.5;fill:none;stroke-linecap:round"/><path d="M320.8,287.5 C310.0,280.8 309.0,277.8 298.8,275.9" style="stroke:#fff;stroke-width:1.9;fill:none;stroke-linecap:round"/>
<path d="M356.4,270.7 C367.7,264.3 369.6,261.1 377.0,259.8" style="stroke:#1a1a1a;stroke-width:3.8;fill:none;stroke-linecap:round"/><path d="M356.4,270.7 C367.7,264.3 369.6,261.1 377.0,259.8" style="stroke:#fff;stroke-width:2.2;fill:none;stroke-linecap:round"/>
<polygon points="305.1,239.3 310.9,242.3 310.9,246.2 305.1,243.2" class="ew"/><polygon points="310.9,242.3 315.1,240.1 315.1,244.0 310.9,246.2" class="ew"/><polygon points="305.1,239.3 310.9,242.3 315.1,240.1 309.3,237.1" class="ew"/>
<path d="M319.7,277.5 L319.7,287.9 L332.3,281.2 L332.3,269.6 L324.3,273.8" class="e"/>
<path d="M321.8,240.7 L313.9,244.9 L313.9,240.2" class="e"/>
<path d="M319.4,224.5 L319.4,218.2 L311.2,222.5" class="e"/>
<ellipse cx="327.7" cy="317.8" rx="2.3" ry="1.8" class="ew"/><ellipse cx="327.7" cy="317.8" rx="1.0" ry="1.0" class="e"/>
<ellipse cx="345.2" cy="294.6" rx="3.2" ry="3.1" class="ew"/><ellipse cx="345.2" cy="294.6" rx="1.5" ry="1.5" class="e"/>
<path d="M319.2,289.6 L319.2,302.5 L328.9,297.4 L340.9,291.0" class="e"/>
<polygon points="347.2,254.3 362.8,262.6 362.8,275.2 347.2,267.0" class="ew"/><polygon points="362.8,262.6 372.2,257.6 372.2,270.2 362.8,275.2" class="ew"/><polygon points="347.2,254.3 362.8,262.6 372.2,257.6 356.6,249.3" class="ew"/>
<polygon points="349.8,294.5 356.8,298.2 356.8,301.7 349.8,298.0" class="ew"/><polygon points="356.8,298.2 359.4,296.8 359.4,300.3 356.8,301.7" class="ew"/><polygon points="349.8,294.5 356.8,298.2 359.4,296.8 352.4,293.1" class="ew"/>
<path d="M313.7,247.4 l24.2,-12.8" class="e"/>
<polygon points="349.2,292.9 356.0,296.5 356.0,306.8 349.2,303.1" class="ew"/><polygon points="356.0,296.5 360.4,294.2 360.4,304.4 356.0,306.8" class="ew"/><polygon points="349.2,292.9 356.0,296.5 360.4,294.2 353.6,290.5" class="ew"/>
<path d="M317.6,269.3 L305.8,275.6 L305.8,280.5" class="e"/>
<path d="M356.0,298.7 l15.1,8.0" class="e"/>
<path d="M324.1,284.3 C323.1,287.2 290.0,270.4 286.3,276.8" style="stroke:#1a1a1a;stroke-width:4.9;fill:none;stroke-linecap:round"/><path d="M324.1,284.3 C323.1,287.2 290.0,270.4 286.3,276.8" style="stroke:#fff;stroke-width:3.3;fill:none;stroke-linecap:round"/>
<path d="M349.0,236.3 l0.0,24.6" class="e"/>
<path d="M331.7,224.1 l19.8,10.5" class="e"/>
<ellipse cx="330.3" cy="313.5" rx="3.7" ry="4.1" class="ew"/><ellipse cx="330.3" cy="313.5" rx="1.7" ry="1.7" class="e"/>
<polygon points="309.1,246.7 315.6,250.1 315.6,254.9 309.1,251.5" class="ew"/><polygon points="315.6,250.1 318.4,248.6 318.4,253.4 315.6,254.9" class="ew"/><polygon points="309.1,246.7 315.6,250.1 318.4,248.6 312.0,245.2" class="ew"/>
<path d="M318.7,266.9 l23.2,-12.3" class="e"/>
<ellipse cx="303.8" cy="236.9" rx="3.7" ry="4.0" class="ew"/><ellipse cx="303.8" cy="236.9" rx="1.7" ry="1.7" class="e"/>
<path d="M335.8,298.1 C338.3,300.5 346.2,306.0 349.9,305.5" style="stroke:#1a1a1a;stroke-width:4.6;fill:none;stroke-linecap:round"/><path d="M335.8,298.1 C338.3,300.5 346.2,306.0 349.9,305.5" style="stroke:#fff;stroke-width:3.0;fill:none;stroke-linecap:round"/>
<polygon points="302.1,276.9 310.0,281.1 310.0,287.1 302.1,282.9" class="ew"/><polygon points="310.0,281.1 314.1,278.9 314.1,284.9 310.0,287.1" class="ew"/><polygon points="302.1,276.9 310.0,281.1 314.1,278.9 306.2,274.8" class="ew"/>
<ellipse cx="324.7" cy="282.0" rx="2.8" ry="2.9" class="ew"/><ellipse cx="324.7" cy="282.0" rx="1.3" ry="1.3" class="e"/>
<ellipse cx="325.3" cy="274.3" rx="3.9" ry="4.0" class="ew"/><ellipse cx="325.3" cy="274.3" rx="1.7" ry="1.7" class="e"/>
<path d="M312.4,276.8 L306.1,280.1 L294.4,273.9" class="e"/>
<path d="M309.3,251.7 C309.2,266.6 335.4,262.7 333.1,275.5" style="stroke:#1a1a1a;stroke-width:5.4;fill:none;stroke-linecap:round"/><path d="M309.3,251.7 C309.2,266.6 335.4,262.7 333.1,275.5" style="stroke:#fff;stroke-width:3.8;fill:none;stroke-linecap:round"/>
<ellipse cx="358.8" cy="261.0" rx="4.0" ry="4.4" class="ew"/><ellipse cx="358.8" cy="261.0" rx="1.8" ry="1.8" class="e"/>
<ellipse cx="305.8" cy="264.3" rx="2.3" ry="1.9" class="ew"/><ellipse cx="305.8" cy="264.3" rx="1.1" ry="1.1" class="e"/>
<path d="M316.3,292.8 C309.3,285.5 306.9,277.4 292.0,279.9" style="stroke:#1a1a1a;stroke-width:4.2;fill:none;stroke-linecap:round"/><path d="M316.3,292.8 C309.3,285.5 306.9,277.4 292.0,279.9" style="stroke:#fff;stroke-width:2.6;fill:none;stroke-linecap:round"/>
<path d="M356.5,244.4 L350.1,241.0 L356.1,244.2 L356.1,238.1" class="e"/>
</g>
<defs><g id="bay">
<path class="ew" d="M0,0 L0,-26 Q0,-33 5,-36 L21.5,-44.5 Q25,-45 28,-41 L12,-32 Q8,-29 8,-24 L8,0 Z"/>
<path class="el" d="M3,0 L3,-26 Q3,-31 7,-34 L23,-43 M5.5,0 L5.5,-25 Q5.5,-30 10,-33 L25.5,-42"/>
<path class="e" d="M12,-33 L28,-40 Q30,-41 33,-39.5 L61,-23.5 Q63,-22 60,-20.5 L48,-13"/>
<path class="e" d="M20.8,-15 L20.8,13 M26.4,-15 L26.4,13"/>
<ellipse class="e" cx="23.6" cy="-15.5" rx="2.8" ry="1.4"/>
<path class="eb" style="fill:none;stroke-width:1.0" d="M12.8,-3 L14.8,11 L18.8,1 L22,14.4 L26,4 L27,8 M22,14.4 L32.4,7.2"/>
<path class="e" d="M35.2,-3 L35.2,20"/>
<path class="e" d="M-10,1 L32,22 M-10,4 L32,25"/>
<path class="el" d="M-2,-2 L36.5,18"/>
</g></defs>
<use href="#bay" x="359.5" y="238.6"/>
<use href="#bay" x="398.0" y="259.6"/>
<use href="#bay" x="436.5" y="280.6"/>
<use href="#bay" x="475.0" y="301.6"/>
<use href="#bay" x="513.5" y="322.6"/>
<use href="#bay" x="552.0" y="343.6"/>

<path class="e" d="M348,171 L620,313"/>
<path class="e" d="M346,174 L618,316"/>
<path class="el" d="M352,196 L570,314"/>
<path class="el" d="M350,212 L570,331"/>

<path class="ew" d="M355.4,162.4 L362.4,156.8 L368,149.8 L382,148.4 L391.8,152.6 L396,162.4 L415.6,170.8 L424,176.4 L432.4,184.8 L443.6,189 L452,196 L483,196 Q488,198 485,203 L450,216 Z"/>
<path class="e" d="M356.8,161 L446.4,205.8"/>
<path class="eb" style="fill:none" d="M355.4,166.6 L449.2,215.6"/>
<path class="e" d="M449.2,207.2 L482.8,196 M452,214 L484,202 M449.2,207.2 Q446,211 450,216"/>

<defs><filter id="gs"><feColorMatrix type="saturate" values="0"/></filter></defs>
<text x="0" y="0" filter="url(#gs)" transform="translate(371,162) rotate(27.6)" style="font:bold italic 8.5px 'Liberation Sans',sans-serif;letter-spacing:0.3px;fill:#111">IVECO CURSOR</text>
<g transform="translate(240 140) scale(0.12)" class="z">
<path class="e" d="M210,285 L330,292 L480,335 Q540,350 565,400 Q585,450 560,490 Q540,510 500,505 L420,520 L380,510 L300,532"/>
<path class="e" d="M480,335 L700,430 L1000,600"/>
<path class="e" d="M330,520 L420,580 L560,640 M420,580 L420,620"/>
<path class="e" d="M240,575 Q245,700 262,800 Q275,880 330,960 L400,990"/>
<path class="ew" d="M205,290 Q300,285 345,360 Q375,440 335,515 Q300,545 255,560 L240,500 Z" />
<path class="e" d="M215,295 Q305,290 350,365 M225,300 Q315,295 360,372 M330,520 Q365,470 360,380"/>
<ellipse class="ew" cx="205" cy="450" rx="92" ry="117" transform="rotate(-15 205 450)"/>
<ellipse class="ew" cx="180" cy="455" rx="90" ry="117" transform="rotate(-15 180 455)"/>
<ellipse class="el" cx="178" cy="456" rx="80" ry="106" transform="rotate(-15 178 456)"/>
<path class="e" d="M200,345 Q260,360 275,450 Q285,530 235,570"/>
<path class="eb" style="fill:none" d="M470,195 L600,262 M500,160 L620,230 M530,230 L590,200"/>
<path class="ew" d="M585,215 L640,222 Q650,240 630,258 L590,250 Z"/>
<path class="e" d="M630,222 Q700,250 718,350 Q728,460 760,570 Q800,690 840,780 Q880,880 900,1000"/>
<path class="e" d="M645,258 Q690,275 700,360 Q712,470 742,580 Q780,700 822,790 Q860,880 880,1000"/>
<ellipse class="ew" cx="812" cy="225" rx="72" ry="88" transform="rotate(20 812 225)"/>
<ellipse class="e" cx="822" cy="235" rx="36" ry="48" transform="rotate(20 822 235)"/>
<path class="e" d="M750,300 Q740,340 760,360 L830,330 L880,300 M740,350 L700,400 Q690,430 720,440"/>
<path class="e" d="M415,500 L500,470 L505,620 L420,640 Z M440,500 L440,630 M470,490 L470,625"/>
<path class="e" d="M460,520 Q480,515 490,530 L490,560 M455,600 Q470,590 490,600 L495,650"/>
<path class="e" d="M550,600 L670,560 L680,700 L560,740 Z M580,610 L590,730 M610,600 L620,720"/>
<path class="e" d="M660,600 L700,590 L710,680 L670,690 Z"/>
<ellipse class="e" cx="685" cy="640" rx="12" ry="15"/>
<path class="e" d="M440,722 Q375,728 378,765 Q395,795 455,780 L560,740 M440,735 Q395,740 395,765 Q405,780 450,770 L555,728"/>
<path class="e" d="M540,760 Q575,800 590,880 Q600,940 605,1000 M560,752 Q598,800 612,880 Q620,940 625,1000"/>
<path class="e" d="M350,960 Q345,900 375,890 Q400,885 405,920 Q420,880 445,890 Q470,900 465,960 M360,900 L400,870 L470,880 L520,930 L520,1000"/>
<path class="e" d="M500,880 L500,1000 M590,740 L600,800 M660,700 L700,720 L780,700 L880,740"/>
<path class="e" d="M700,700 L700,800 Q730,830 780,820 L800,1000"/>
<path class="e" d="M720,600 L760,580 L780,700 M820,560 L860,540 L870,660"/>
<path class="e" d="M860,500 L860,700 M885,500 L885,700"/>
<ellipse class="e" cx="872" cy="500" rx="14" ry="7"/>
<path class="eb" style="fill:none;stroke-width:1.3" d="M800,680 L815,600 L840,670 L860,610 L880,690 L905,620 L915,650 M880,690 L950,650"/>
<path class="e" d="M940,820 L1000,850 M930,860 L1000,900 M900,720 L900,860"/>
<path class="e" d="M680,600 L690,760 M700,770 L760,760"/>
<path class="e" d="M760,760 Q780,740 820,760 L860,800 Q880,830 860,860 L830,870 Q800,860 790,830 Z"/>
<path class="el" d="M620,700 L660,780 L700,900 M720,870 L760,990 M640,900 L700,940"/>
</g>

<g transform="translate(240 190) scale(0.1)" class="z">
<path class="e" d="M285,185 Q290,300 310,420 Q330,540 335,610 L420,660 L600,780 L640,770"/>
<path class="e" d="M335,610 L420,625 M330,100 L500,230 M400,120 L500,140 M680,200 L800,140 M700,230 L800,170"/>
<path class="ew" d="M415,600 Q420,560 450,565 Q475,580 480,620 Q490,590 515,595 Q535,610 540,650 L580,660 L600,620 L630,640 L640,770 L590,780 L540,690 L480,670 L420,655 Z"/>
<path class="e" d="M420,600 L480,620 L540,650 M590,620 L590,780"/>
<path class="ew" d="M520,360 Q460,380 445,410 Q450,450 490,460 Q530,465 560,440 L640,405 L635,392 L555,428 Q530,445 500,445 Q470,440 465,415 Q475,395 525,378 Z"/>
<path class="ew" d="M500,90 L610,40 L615,330 L545,300 L500,250 Z"/>
<path class="e" d="M545,80 L545,300 M500,90 L545,110 L610,80 M560,120 Q580,110 590,140 L585,200 M550,230 L600,210 L610,320"/>
<ellipse class="e" cx="575" cy="160" rx="18" ry="26"/>
<path class="ew" d="M650,320 L720,290 L820,300 L830,360 L760,400 L670,400 Z"/>
<path class="e" d="M690,300 L700,400 M720,290 L730,390 M800,210 L820,320 M830,320 L1000,420 M820,360 L1000,460"/>
<path class="e" d="M640,400 Q680,460 700,560 Q720,680 740,800 L760,1000 M672,395 Q712,455 732,560 Q752,680 772,800 L792,1000"/>
<circle class="ew" cx="680" cy="800" r="12"/><circle class="ew" cx="615" cy="470" r="12"/><circle class="ew" cx="820" cy="265" r="10"/>
<path class="e" d="M600,800 L560,1000 M650,820 L620,1000 M430,960 Q480,930 540,960"/>
</g>

<g transform="translate(440 95) scale(0.2)" class="z">
<path class="ew" d="M150,215 Q200,228 208,262 Q208,300 196,330 L200,420 L420,560 L450,600 L540,650 L800,760 Q840,780 855,800 L940,805 Q938,720 892,680 Q862,655 830,650 L600,510 L480,460 L320,350 Q352,280 352,205 Q338,112 225,72 L150,45 Q95,60 85,120 Q80,190 120,210 Z"/>
<path class="e" d="M320,350 L480,460 M200,420 L420,560 M196,330 Q180,380 200,420"/>
<path class="el" d="M240,360 Q220,400 235,440 M300,372 Q275,410 290,450"/>
<path class="ew" d="M422,470 L482,458 L602,508 Q615,520 605,540 L545,652 L452,602 Q405,540 422,470 Z"/>
<path class="e" d="M482,458 Q445,530 468,600 M490,520 L585,510 Q600,522 590,540 L540,542 Q505,560 515,632 L545,652 M605,525 Q580,590 545,652"/>
<path class="e" d="M602,508 L830,650 M545,652 L800,760"/>
<path class="e" d="M830,650 Q920,700 930,800 M800,760 Q830,770 850,800 M835,665 Q905,705 912,800"/>
<path class="ew" d="M850,800 L940,795 Q955,810 940,830 L860,835 Q845,820 850,800 Z"/>
<path class="ew" d="M640,600 L720,570 Q750,570 745,600 L700,620 L690,670 Q670,690 645,670 Z"/>
<ellipse class="e" cx="728" cy="582" rx="14" ry="8"/>
<ellipse class="e" cx="655" cy="640" rx="10" ry="14"/>
<path class="el" d="M700,700 Q800,650 830,700 M760,720 Q800,700 820,740 M620,560 Q640,620 700,650"/>
<path class="eb" style="fill:none;stroke-width:1.3" d="M300,620 Q340,640 352,665 Q365,700 400,705 L440,712 Q500,720 525,745 Q545,790 585,790 L640,785 Q700,790 720,820 Q740,855 770,860 L820,870 Q860,890 880,920 Q900,950 930,960 L1000,985"/>
<path class="e" d="M305,640 Q335,660 345,690 Q360,720 400,720 L440,728 Q495,735 515,760 Q540,805 585,805 L640,800 Q690,805 710,830 Q735,870 770,875 L820,885 Q855,905 870,935 Q895,965 930,975 L1000,1000"/>
<path class="e" d="M560,760 Q620,770 640,760 Q700,760 720,800 M620,750 Q680,740 700,780 L760,800 Q820,800 840,830"/>
<ellipse class="ew" cx="210" cy="665" rx="92" ry="62"/>
<path class="e" d="M118,665 L120,705 Q170,740 215,735 Q280,735 302,700 L302,665"/>
<ellipse class="e" cx="210" cy="652" rx="80" ry="52"/>
<ellipse class="e" cx="210" cy="645" rx="58" ry="38"/>
<ellipse class="e" cx="210" cy="640" rx="36" ry="24"/>
<ellipse class="e" cx="210" cy="635" rx="18" ry="12"/>
<path class="el" d="M150,680 L270,680 M130,690 L290,690 M175,712 L245,712"/>
<path class="e" d="M230,735 L640,960 M320,745 L820,1000"/>
</g>

<path class="e" style="stroke-width:0.6" d="M500.4,228.0 l0,2.5 M500.2,229.6 l0,2.7 M499.8,231.2 l0,2.9 M499.0,232.7 l0,3.1 M497.9,234.2 l0,3.2 M496.6,235.5 l0,3.4 M495.0,236.8 l0,3.6 M493.2,237.8 l0,3.7 M491.2,238.7 l0,3.8 M489.0,239.5 l0,3.9 M486.8,240.0 l0,3.9 M484.4,240.3 l0,4.0 M482.0,240.4 l0,4.0 M479.6,240.3 l0,4.0 M477.2,240.0 l0,3.9 M475.0,239.5 l0,3.9 M472.8,238.7 l0,3.8 M470.8,237.8 l0,3.7 M469.0,236.8 l0,3.6 M467.4,235.5 l0,3.4 M466.1,234.2 l0,3.2 M465.0,232.7 l0,3.1 M464.2,231.2 l0,2.9 M463.8,229.6 l0,2.7 M463.6,228.0 l0,2.5 M463.8,226.4 l0,2.5 M500.2,226.4 l0,2.5"/>
<g transform="translate(440 95) scale(0.1)" class="z">
<path class="ew" d="M300,80 L355,95 L460,140 L470,160 Q530,200 560,215 Q660,280 700,390 Q730,500 700,600 Q680,660 630,720 L600,700 Q500,720 450,800 L420,760 L375,580 Q415,500 405,465 L320,425 L245,385 L205,365 Q140,290 160,190 Q200,95 300,80 Z"/>
<path class="eb" style="fill:none;stroke-width:1.7" d="M300,80 Q200,95 160,190 Q140,290 175,340 Q190,360 205,365"/>
<path class="e" d="M305,92 Q212,108 173,198 Q156,288 188,342"/>
<path class="e" d="M300,80 L355,95 M205,365 L245,385 M355,95 L420,125"/>
<path class="eb" style="fill:none;stroke-width:1.6" d="M460,140 Q360,150 290,220 Q240,300 265,390 Q280,420 310,430"/>
<path class="e" d="M470,160 Q380,170 315,230 Q268,300 285,385 Q295,415 320,425"/>
<path class="e" d="M470,160 Q530,200 560,215 Q660,280 700,390 Q730,500 700,600 Q680,660 630,720"/>
<path class="e" d="M320,425 Q380,450 405,465 Q415,500 400,530 Q380,570 375,580"/>
<path class="el" d="M540,210 Q450,250 400,340 Q385,400 405,465"/>
<path class="ew" d="M290,670 L440,560 L530,612 L520,640 L385,720 L372,830 L282,792 Z"/>
<path class="e" d="M290,670 L385,720 M385,720 L372,830 M290,670 L282,792 M440,560 L455,590 L530,612"/>
<path class="e" d="M600,700 Q500,720 450,800 Q420,880 460,960 M630,720 L960,915"/>
</g>

<g transform="translate(560 230) scale(0.2)" class="z">
<path class="ew" d="M50,420 L300,305 Q320,312 320,335 L320,520 L60,640 L50,630 Z"/>
<path class="e" d="M0,290 L120,365 Q160,380 200,360 L300,312"/>
<path class="e" d="M0,330 L105,395 L105,430"/>
<path class="e" d="M0,360 L90,415 L100,420"/>
<path class="e" d="M75,410 L75,630 M95,400 L95,620 M40,450 L40,620"/>
<path class="e" d="M190,340 L200,520 L250,495 L240,330 M210,460 Q225,450 240,460 M215,520 L215,560"/>
<path class="e" d="M0,640 L330,490 M0,660 L330,510 M10,690 L330,540"/>
<path class="e" d="M160,620 L160,690 Q200,700 240,680 L240,600 Q235,580 200,590 Q165,600 160,620 Z"/>
<ellipse class="e" cx="205" cy="640" rx="22" ry="30"/>
<path class="e" d="M290,590 L290,500 L310,490 L310,590"/>
<path class="e" d="M372,262 Q352,185 410,130 Q470,95 525,95 Q565,110 555,160 Q540,215 485,255 M390,255 Q372,190 420,145 Q470,115 520,112 Q548,125 540,160 Q525,210 472,245"/>
<path class="ew" d="M360,250 Q400,215 455,235 Q485,260 478,300 L470,390 Q440,440 400,470 L370,550 L320,560 L320,380 Q335,270 360,250 Z"/>
<ellipse class="e" cx="438" cy="335" rx="28" ry="42" transform="rotate(20 438 335)"/>
<ellipse class="e" cx="438" cy="335" rx="16" ry="24" transform="rotate(20 438 335)"/>
<path class="e" d="M380,270 Q420,255 450,270 M385,400 L460,370 M370,520 L360,600"/>
<circle class="e" cx="355" cy="530" r="14"/>
<circle class="e" cx="350" cy="598" r="10"/>
<path class="ew" d="M340,650 L440,615 L470,610 L550,625 L520,650 L540,720 L480,760 L400,760 L340,720 Z"/>
<path class="e" d="M380,640 L460,620 L500,720 L400,760 M460,620 L520,650 M380,640 L400,760"/>
<circle class="e" cx="370" cy="700" r="20"/>
<circle class="e" cx="495" cy="660" r="10"/>
<path class="e" d="M0,940 Q150,870 240,790 Q290,750 360,745 L470,760 Q560,780 620,810 Q690,850 710,900 M0,970 Q160,900 250,815 Q300,770 360,768 L470,780 Q550,800 610,830 Q670,865 690,910"/>
<path class="e" d="M120,820 L300,760 M160,850 L340,790 M300,800 Q330,780 360,800 L380,840 Q370,870 340,865 Z"/>
<ellipse class="e" cx="370" cy="800" rx="20" ry="16"/>
<path class="e" d="M400,780 L560,870 L560,920 M440,820 Q470,800 500,820 L540,850"/>
<ellipse class="e" cx="460" cy="820" rx="16" ry="12"/>
<path class="e" d="M580,830 L600,900 L560,920 M600,850 Q630,840 650,870"/>
<path class="e" d="M0,700 Q30,680 70,690 Q110,700 130,740 Q135,780 100,790 L40,780 Q0,760 0,700 Z"/>
<ellipse class="e" cx="100" cy="740" rx="28" ry="38" transform="rotate(-30 100 740)"/>
<path class="e" d="M0,820 L80,800 L200,880 L220,1000 M60,880 L180,920 L200,1000 M280,880 L320,1000 M380,880 L400,1000 M440,900 L520,1000 M540,940 L600,1000"/>
<path class="e" d="M140,910 Q175,900 190,930 Q185,960 150,955 Q130,940 140,910 Z"/>
<path class="e" d="M230,880 Q260,870 280,900 M310,840 L350,900 L420,920 L460,980"/>
<path class="el" d="M200,760 L260,720 L300,735 M40,700 L20,780 M240,920 L330,960 L400,960 M460,940 L560,960"/>
</g>

<g transform="translate(240 250) scale(0.15)" class="z">
<path class="e" d="M310,830 Q340,920 420,985 L500,1000 M330,800 L480,810 L640,840 L640,960 L480,960 L480,810"/>
<path class="e" d="M500,850 L620,870 L620,940 L500,925 Z"/>
<path class="e" d="M360,70 L400,90 L410,120 L380,200 Q360,240 380,260 M420,120 L450,140 L440,230"/>
<path class="e" d="M200,0 L240,40 L330,40 L360,20 M250,0 L260,30 M300,0 L300,40 L360,60 L360,20"/>
<path class="e" d="M400,0 L420,110 M440,0 L450,100"/>
<path class="e" d="M480,0 Q500,80 500,200 Q490,300 460,400 Q445,460 465,500 M500,0 Q520,80 520,200 Q510,300 480,400 Q468,460 485,495"/>
<path class="e" d="M560,0 L580,60 M610,0 Q650,60 640,120 L610,240 L600,380 L600,700 M630,100 Q660,130 650,200 L625,300 L625,700"/>
<path class="e" d="M560,230 L600,250 L640,240 L700,280 L700,700 M720,300 L730,700"/>
<path class="e" d="M520,300 L560,290 Q600,310 600,360 L560,380 L520,360 Z"/>
<path class="e" d="M700,40 Q760,60 760,140 L740,240 L730,320 M730,60 Q790,90 780,160 L765,250 L760,330"/>
<path class="e" d="M760,120 Q800,80 870,90 L920,110 M770,150 Q810,110 870,115 L920,130"/>
<path class="e" d="M610,290 L900,250 M610,305 L900,270"/>
<path class="e" d="M760,320 Q760,400 810,440 L900,480 M780,300 Q780,380 830,420 L920,460"/>
<path class="e" d="M620,380 L780,440 L1000,520 M620,400 L780,460 L1000,540 M640,470 L1000,610"/>
<path class="e" d="M680,520 Q700,500 740,510 L760,560 L760,640 L700,630 Q680,600 680,520 Z"/>
<path class="e" d="M820,600 Q850,580 880,600 L900,700 Q920,800 890,860 Q860,880 820,860 Q800,820 810,740 Z"/>
<path class="e" d="M840,620 Q860,610 870,625 L880,720 Q890,800 870,840"/>
<ellipse class="e" cx="770" cy="810" rx="35" ry="50" transform="rotate(-15 770 810)"/>
<path class="e" d="M740,760 L740,1000 M780,870 L780,1000 M600,700 L700,720 L720,800 L600,780 Z"/>
<path class="e" d="M560,640 L700,680 M520,620 L540,700 L620,720"/>
<path class="e" d="M880,0 L900,60 L1000,120 M820,0 L840,60 M900,140 L1000,180 M900,200 L1000,240 M930,280 L1000,310"/>
<path class="e" d="M930,380 Q960,350 1000,360 M920,420 Q960,390 1000,400 M940,520 L1000,560 M950,600 L1000,620"/>
<path class="e" d="M900,880 L960,900 L1000,900 M920,960 L1000,960"/>
<path class="el" d="M700,180 L860,250 M720,200 L860,270 M800,480 L870,600 M880,560 L1000,500"/>
</g>

<g transform="translate(380 280) scale(0.2)" class="z">
<path class="e" d="M100,40 L440,210 M100,70 L430,240 M90,100 L420,270"/>
<path class="e" d="M160,50 Q160,35 180,40 L200,48 Q210,60 205,75 L185,80 Q165,75 160,50 Z M215,75 Q215,60 235,65 L255,73 Q265,85 260,100 L240,105 Q220,100 215,75 Z M270,105 Q270,90 290,95 L310,103 Q320,115 315,130 L295,135 Q275,130 270,105 Z M325,140 Q325,125 345,130 L365,138 Q375,150 370,165 L350,170 Q330,165 325,140 Z M380,170 Q380,155 400,160 L420,168 Q430,180 425,195 L405,200 Q385,195 380,170 Z"/>
<circle class="e" cx="185" cy="60" r="7"/><circle class="e" cx="240" cy="88" r="7"/><circle class="e" cx="295" cy="118" r="7"/><circle class="e" cx="350" cy="152" r="7"/><circle class="e" cx="405" cy="182" r="7"/>
<path class="e" d="M0,200 Q60,160 120,150 M0,240 Q60,200 125,185 M150,130 Q140,200 170,300 L190,360 M175,125 Q165,200 195,295 L215,355"/>
<path class="e" d="M200,160 Q240,150 260,190 L270,260 Q290,320 330,340 M220,150 Q265,140 285,185 L295,255 Q312,305 350,325"/>
<path class="e" d="M0,300 Q40,270 100,280 L160,300 M40,330 Q70,300 120,310 M50,260 L60,360 L140,400"/>
<path class="e" d="M440,215 Q380,240 370,290 Q360,380 390,470 Q410,540 440,600 M455,235 Q400,260 392,300 Q385,380 412,465 Q432,530 462,590"/>
<ellipse class="e" cx="495" cy="220" rx="22" ry="28" transform="rotate(25 495 220)"/>
<path class="e" d="M420,110 Q430,100 460,100 L490,120 Q480,150 450,160 Q420,150 420,110 Z"/>
<ellipse class="e" cx="445" cy="135" rx="20" ry="22"/>
<path class="e" d="M480,110 L560,120 Q600,150 610,200 L640,280 L660,320 M500,140 L560,150 Q585,170 595,210 L620,290"/>
<path class="e" d="M420,250 L560,330 L700,400 L1000,560 M400,290 L540,360 L690,430 L1000,600 M380,330 L530,400 L680,470 L1000,640"/>
<path class="e" d="M560,280 Q600,270 620,300 Q625,330 600,345 Q570,350 560,320 Z M640,300 Q670,290 690,320 L700,350 Q680,370 650,360 Z"/>
<ellipse class="e" cx="590" cy="312" rx="18" ry="20"/>
<path class="ew" d="M790,270 Q820,240 860,260 Q885,290 880,340 L870,380 L800,390 L790,330 Z"/>
<ellipse class="e" cx="825" cy="305" rx="18" ry="28" transform="rotate(-10 825 305)"/>
<path class="e" d="M880,200 L1000,260 M870,230 L1000,300 M900,180 L1000,180 M960,160 L960,380 M990,160 L990,400"/>
<path class="e" d="M580,40 L580,120 M600,40 L600,120 M680,50 L680,230 M700,60 L700,240 M770,160 L770,300 M790,160 L790,300"/>
<path class="eb" style="fill:none" d="M540,100 L555,170 L575,110 L590,180 L610,140 M740,220 L750,290 L770,230 L780,300"/>
<path class="ew" d="M150,400 L255,375 L365,440 L370,770 L235,705 L125,680 L120,440 Z"/>
<path class="e" d="M120,440 L220,470 L365,445 M220,470 L230,705 M135,470 L210,490 L215,690 L140,665 Z"/>
<path class="ew" d="M240,520 L285,530 L290,710 L245,700 Z"/>
<path class="e" d="M250,540 L280,548 L282,690 L252,683 Z M300,520 L360,550 M300,560 L360,590 M300,600 L360,630 M300,640 L360,670 M300,680 L360,710 M300,520 L305,720"/>
<path class="e" d="M60,380 L120,370 L120,700 L60,720 Z M0,440 L60,430 M0,520 L60,510 M0,600 L60,590 M0,680 L60,670"/>
<path class="e" d="M20,580 Q40,570 50,590 L50,640 Q30,650 15,630 Z"/>
<path class="e" d="M380,480 L520,540 L600,580 M390,520 L520,580 M420,460 Q480,440 520,470 M430,640 L520,680 L600,700"/>
<path class="eb" style="stroke-width:2.2;fill:none" d="M550,530 A22,18 0 1 0 551,530 M520,600 A22,18 0 1 0 521,600"/>
<path class="e" d="M500,560 L600,600 L640,620 M480,610 L590,660 L630,660 M600,560 Q640,550 650,590 L640,620 M600,620 Q630,610 640,640"/>
<path class="e" d="M0,700 L120,720 M0,730 L100,750 L110,800 L0,780"/>
<path class="e" d="M100,780 L300,830 L440,820 L580,850 L640,880 M100,800 L300,852 L440,842 L570,870 L630,900"/>
<path class="e" d="M300,830 Q280,900 300,1000 M320,850 Q300,910 320,1000 M440,820 L430,1000 M460,830 L450,1000"/>
<path class="eb" style="stroke-width:1.8;fill:none" d="M40,820 Q40,800 60,805 L85,815 Q95,835 85,855 L60,860 Q40,850 40,820 Z M110,815 Q112,800 135,805 L150,815 Q155,835 145,845 L125,848 Q110,840 110,815 Z"/>
<path class="e" d="M0,860 Q40,900 100,900 L140,920 L140,1000 M0,900 L100,940"/>
<path class="e" d="M440,760 Q470,740 500,760 Q520,800 500,830 Q470,845 445,820 Z"/>
<ellipse class="e" cx="470" cy="795" rx="22" ry="28"/>
<path class="e" d="M560,640 Q600,660 600,700 L590,760 M610,580 L700,560 L800,600 L1000,700"/>
<path class="ew" d="M640,640 L760,600 Q900,640 960,760 Q1000,840 1000,1000 L680,1000 Q620,900 630,800 Z"/>
<path class="e" d="M700,640 Q820,640 900,740 Q960,830 960,1000 M720,700 Q820,700 880,780 Q930,860 920,1000"/>
<path class="e" d="M760,740 L800,720 M780,780 L820,760 M800,820 L840,800 M800,860 L850,850 M800,900 L850,900 M790,940 L840,950"/>
<ellipse class="e" cx="840" cy="860" rx="60" ry="80" transform="rotate(-20 840 860)"/>
<ellipse class="e" cx="840" cy="860" rx="30" ry="40" transform="rotate(-20 840 860)"/>
<circle class="e" cx="880" cy="720" r="20"/><circle class="e" cx="960" cy="800" r="15"/>
<path class="e" d="M640,860 Q660,840 690,860 L700,900 Q680,930 650,910 Z M620,900 L640,1000 M680,940 L700,1000"/>
<path class="el" d="M0,0 L60,30 M0,100 L80,150 M60,150 L100,200 M480,680 L530,700 L540,760 M560,700 L600,720"/>
</g>

<g transform="translate(300 400) scale(0.2)" class="z">
<path class="ew" d="M95,130 L95,470 Q100,515 145,535 L650,835 L690,830 L700,760 Q720,725 760,725 L850,730 L1000,800 L1000,640 L540,380 L540,300 L95,130 Z"/>
<path class="e" d="M105,140 L105,465 Q110,505 150,522 L650,820 M665,825 L685,765 Q705,735 760,738 L845,742 L1000,815"/>
<path class="e" d="M540,380 L1000,640 M540,395 L1000,655"/>
<path class="ew" d="M190,215 L345,230 L345,455 Q300,475 255,470 Q200,465 190,440 Z"/>
<path class="e" d="M190,440 Q230,460 270,458 Q320,455 345,440 M190,235 Q260,255 345,240"/>
<path class="ew" d="M340,300 L540,300 L540,530 Q500,555 440,555 Q370,550 340,525 Z"/>
<path class="e" d="M340,525 Q380,540 440,542 Q510,540 540,520 M340,310 Q440,335 540,310 M340,295 Q440,320 540,295"/>
<path class="e" d="M190,200 Q260,175 345,200 L345,230 Q260,250 190,230 Z M200,180 L330,190"/>
<path class="e" d="M350,275 Q440,255 530,270 L535,300 Q440,320 350,300 Z"/>
<path class="e" d="M160,150 L210,140 L220,190 L170,200 Z M300,230 L330,240 L330,280 L305,275 Z"/>
<path class="e" d="M200,80 Q230,60 260,80 L265,120 Q240,140 210,125 Z M260,40 Q290,30 305,50 L310,110 Q290,125 270,115 M300,20 Q320,0 340,20 L345,50"/>
<ellipse class="e" cx="290" cy="50" rx="20" ry="14"/>
<ellipse class="e" cx="340" cy="30" rx="18" ry="12"/>
<path class="e" d="M310,100 L480,140 L500,190 L420,250 L340,220 Z M340,150 L460,180 M330,180 L440,210"/>
<path class="e" d="M380,200 Q400,180 430,190 L470,240 Q470,270 440,270 L400,250 Z"/>
<path class="eb" style="stroke-width:1.6;fill:none" d="M460,250 A22,20 0 1 0 461,250 M530,225 A20,18 0 1 0 531,225"/>
<path class="e" d="M480,175 L640,210 L760,240 M480,195 L640,232 L760,262"/>
<path class="e" d="M540,280 Q600,310 660,285 L760,250 Q820,220 850,190 M545,305 Q605,330 665,305 L765,272 Q830,240 860,210"/>
<path class="e" d="M0,20 L90,20 L130,60 L160,110 M30,0 L30,60 L60,90 M120,0 L140,40"/>
<circle class="e" cx="60" cy="80" r="10"/>
<path class="e" d="M560,0 L560,60 M620,0 L620,100 L700,110 L700,0 M640,20 L680,20 L680,90 L640,90 Z"/>
<path class="e" d="M720,100 Q760,90 780,120 L780,180 Q760,200 730,190 Z"/>
<ellipse class="e" cx="750" cy="145" rx="18" ry="25"/>
<path class="e" d="M820,150 Q850,130 890,150 L900,210 Q880,240 845,235 Z"/>
<ellipse class="e" cx="860" cy="190" rx="28" ry="35"/>
<path class="e" d="M900,30 Q930,0 960,20 L980,60 L1000,80 M920,60 L940,120 L960,180 L1000,220"/>
<path class="e" d="M620,330 L620,400 M660,380 L660,440 L720,440 L720,400 Z M820,300 L820,500 M835,300 L835,510 M880,330 L880,550 M895,340 L895,560"/>
<path class="e" d="M560,330 Q600,350 640,330 M700,300 L760,280 L780,330 L780,420 M700,400 Q760,380 800,420"/>
<path class="e" d="M900,420 Q960,400 1000,440 M910,450 Q960,430 1000,470 M960,520 Q990,500 1000,520 M950,560 L1000,580"/>
<path class="e" d="M560,360 L600,380 L620,330 M960,240 L1000,270 M950,300 L1000,330"/>
<path class="el" d="M700,440 L820,500 M720,470 L820,520 M560,380 L700,450"/>
</g>

<g>
<path class="ew" d="M376,266 L478,319 Q482,323 478,327 L376,274 Q372,270 376,266 Z"/>
<path class="e" d="M377,270.5 L478,323"/>
<path class="ew" d="M379.5,264.0 Q379.5,261.0 383.0,261.5 L386.0,263.0 Q387.5,265.0 387.0,268.0 L384.0,269.0 Q380.0,268.0 379.5,264.0 Z"/>
<ellipse class="e" cx="383.3" cy="265.2" rx="1.6" ry="1.9"/>
<path class="ew" d="M391.9,270.5 Q391.9,267.5 395.4,268.0 L398.4,269.5 Q399.9,271.5 399.4,274.5 L396.4,275.5 Q392.4,274.5 391.9,270.5 Z"/>
<ellipse class="e" cx="395.7" cy="271.7" rx="1.6" ry="1.9"/>
<path class="ew" d="M404.3,277.0 Q404.3,274.0 407.8,274.5 L410.8,276.0 Q412.3,278.0 411.8,281.0 L408.8,282.0 Q404.8,281.0 404.3,277.0 Z"/>
<ellipse class="e" cx="408.1" cy="278.2" rx="1.6" ry="1.9"/>
<path class="ew" d="M416.7,283.5 Q416.7,280.5 420.2,281.0 L423.2,282.5 Q424.7,284.5 424.2,287.5 L421.2,288.5 Q417.2,287.5 416.7,283.5 Z"/>
<ellipse class="e" cx="420.5" cy="284.7" rx="1.6" ry="1.9"/>
<path class="ew" d="M429.1,290.0 Q429.1,287.0 432.6,287.5 L435.6,289.0 Q437.1,291.0 436.6,294.0 L433.6,295.0 Q429.6,294.0 429.1,290.0 Z"/>
<ellipse class="e" cx="432.9" cy="291.2" rx="1.6" ry="1.9"/>
<path class="ew" d="M441.5,296.5 Q441.5,293.5 445.0,294.0 L448.0,295.5 Q449.5,297.5 449.0,300.5 L446.0,301.5 Q442.0,300.5 441.5,296.5 Z"/>
<ellipse class="e" cx="445.3" cy="297.7" rx="1.6" ry="1.9"/>
<path class="ew" d="M453.9,303.0 Q453.9,300.0 457.4,300.5 L460.4,302.0 Q461.9,304.0 461.4,307.0 L458.4,308.0 Q454.4,307.0 453.9,303.0 Z"/>
<ellipse class="e" cx="457.7" cy="304.2" rx="1.6" ry="1.9"/>
<path class="ew" d="M466.3,309.5 Q466.3,306.5 469.8,307.0 L472.8,308.5 Q474.3,310.5 473.8,313.5 L470.8,314.5 Q466.8,313.5 466.3,309.5 Z"/>
<ellipse class="e" cx="470.1" cy="310.7" rx="1.6" ry="1.9"/>
</g>
<g transform="translate(240 140) scale(0.12)" class="z">
</g>
<ellipse class="ew" cx="358" cy="188" rx="11" ry="7"/>
<path class="e" d="M347,188 L347,192 Q358,200 369,192 L369,188"/>
<path class="ew" d="M352,184 L362,180 Q366,182 364,186 L354,190 Q350,188 352,184 Z"/>
<ellipse class="e" cx="358" cy="188" rx="8" ry="5"/>
<path class="e" d="M412,452.9 L412,476.1"/>
<path class="e" d="M418,455.6 L418,479.4"/>
<path class="e" d="M430,461.0 L430,485.8"/>
<path class="e" d="M436,463.7 L436,489.0"/>
<path class="e" d="M450,470.0 L450,496.5"/>
<path class="e" d="M456,472.7 L456,499.7"/>
<path class="e" d="M466,477.2 L466,505.0"/>
<path class="e" d="M472,479.9 L472,508.2"/>
<path class="e" d="M486,486.2 L486,515.7"/>
<path class="e" d="M492,488.9 L492,518.9"/>
<path class="e" d="M505,494.8 L505,525.9"/>
<path class="e" d="M511,497.4 L511,529.1"/>
<path class="e" d="M405,470 L520,532 M406,473 L518,535"/>
<path d="M398,436 Q412,442 425,445 Q440,448 455,446 Q470,443 482,438" style="stroke:#1a1a1a;stroke-width:5.2;fill:none;stroke-linecap:round"/>
<path d="M398,436 Q412,442 425,445 Q440,448 455,446 Q470,443 482,438" style="stroke:#fff;stroke-width:3.4;fill:none;stroke-linecap:round"/>
<path d="M430,470 Q445,462 460,464 Q475,468 482,480 Q488,492 500,496" style="stroke:#1a1a1a;stroke-width:4.6;fill:none;stroke-linecap:round"/>
<path d="M430,470 Q445,462 460,464 Q475,468 482,480 Q488,492 500,496" style="stroke:#fff;stroke-width:3.0;fill:none;stroke-linecap:round"/>
<ellipse class="ew" cx="478" cy="470" rx="6" ry="4"/>
<ellipse class="e" cx="478" cy="470" rx="3.5" ry="2.2"/>
<path class="ew" d="M440,478 L452,484 L452,494 L440,488 Z"/><path class="ew" d="M495,505 L505,510 L505,520 L495,515 Z"/>
<ellipse class="ew" cx="470" cy="500" rx="7" ry="5"/>
<g transform="translate(500 400) scale(0.25)" class="z">
<path class="ew" d="M40,400 L140,370 L260,390 L330,400 L300,560 L290,700 L300,740 L240,740 L150,728 L40,700 Z"/>
<path class="e" d="M100,450 L100,700 M150,480 L150,720 M60,480 L100,470 M100,540 L150,550 L160,600 L300,600 M160,480 L300,500 M180,500 L300,620"/>
<path class="e" d="M150,700 L290,730 M40,680 L140,700"/>
<circle class="e" cx="205" cy="600" r="9"/><circle class="e" cx="235" cy="615" r="9"/><circle class="e" cx="265" cy="632" r="11"/><circle class="e" cx="210" cy="690" r="9"/><circle class="e" cx="262" cy="712" r="10"/>
<ellipse class="e" cx="232" cy="690" rx="18" ry="26"/>
<path class="e" d="M110,100 L280,40 Q330,40 340,90 L330,230 L290,290 L200,300 L120,280 Z"/>
<ellipse class="e" cx="230" cy="170" rx="75" ry="100" transform="rotate(20 230 170)"/>
<ellipse class="e" cx="230" cy="170" rx="50" ry="70" transform="rotate(20 230 170)"/>
<path class="e" d="M140,120 L180,100 M130,160 L170,140 M130,200 L170,190 M140,240 L180,240 M150,60 Q170,40 200,50"/>
<circle class="e" cx="160" cy="185" r="12"/><circle class="e" cx="235" cy="225" r="10"/>
<path class="e" d="M20,210 Q40,190 70,200 Q100,230 90,270 Q70,290 40,280 Q15,260 20,210 Z"/>
<ellipse class="e" cx="55" cy="240" rx="25" ry="30"/>
<path class="e" d="M70,280 L80,380 M100,280 L110,370 M0,380 L60,400 M0,440 L60,440 M0,500 L60,500 M20,480 L40,560 M0,600 L60,600 M0,680 L60,690"/>
<path class="e" d="M150,380 L240,380 L260,420 L250,460 L200,470 L150,450 Z"/>
<ellipse class="e" cx="230" cy="415" rx="16" ry="20"/>
<path class="e" d="M300,110 Q340,80 380,120 L390,190 Q370,220 330,210 M300,220 Q320,180 360,200"/>
<circle class="e" cx="240" cy="70" r="18"/>
<path class="e" d="M330,230 L480,250 M300,280 L420,300 M260,300 L400,340 M250,330 L390,380 M280,360 L380,400 M340,200 L470,170 M380,130 L480,150"/>
<path class="e" d="M380,120 L420,60 L480,20 M430,100 L520,40 L600,20 M500,130 L560,90 L640,90 L650,130 L560,160 Z"/>
<path class="e" d="M500,0 L520,60 M560,0 L580,50 M620,0 L640,60 M600,60 L700,90"/>
<path class="e" d="M0,0 L60,20 M30,40 L90,60 L100,120 M0,80 L40,120 M0,140 L30,160"/>
<path class="e" d="M240,250 Q260,240 280,260 L300,300 L270,310 Z M200,330 L260,360 L260,380"/>
</g>

<g transform="translate(450 250) scale(0.3)" class="z">
<path class="ew" d="M180,540 L260,495 L330,515 Q390,545 415,600 Q430,660 400,700 L330,725 L260,705 Q205,670 185,620 Z"/>
<ellipse class="e" cx="345" cy="635" rx="62" ry="78" transform="rotate(-20 345 635)"/>
<ellipse class="e" cx="350" cy="640" rx="42" ry="54" transform="rotate(-20 350 640)"/>
<ellipse class="e" cx="352" cy="642" rx="18" ry="22"/>
<path class="e" d="M215,545 Q190,600 225,680 M235,535 Q210,600 245,690 M255,525 Q230,600 265,700 M275,520 Q250,600 285,705 M295,520 Q270,600 305,712"/>
<path class="e" d="M200,560 L180,600 M260,495 L250,470 L300,460 L330,515"/>
<circle class="e" cx="300" cy="655" r="10"/><circle class="e" cx="360" cy="565" r="10"/><circle class="e" cx="390" cy="700" r="9"/>
<path class="e" d="M400,440 Q470,418 560,428 L760,468 Q825,488 842,525 M405,462 Q472,440 558,450 L755,490 Q810,506 826,532"/>
<path class="e" d="M410,540 Q470,520 540,500 L600,470 L700,460 M415,560 Q475,540 545,520 L605,490 L700,480"/>
<path class="e" d="M420,560 Q470,600 480,640 L470,680 M440,550 Q490,590 500,640 L490,685"/>
<path class="e" d="M430,640 Q460,630 480,650 L470,690 Q440,700 425,680 Z"/>
<path class="e" d="M580,560 L700,545 L760,565 L860,600 M590,580 L700,565 L860,620"/>
<path class="e" d="M565,530 L430,620 M565,555 L430,700 M560,585 L440,760 M545,620 L440,790 M540,660 L460,800 M520,700 L470,820"/>
<path class="e" d="M480,560 L560,540 L600,560 L600,600 L520,620 Z"/>
<path class="e" d="M620,560 Q640,540 670,550 L690,580 L660,600 Z M700,500 L720,540 M740,490 L760,540 M780,500 L800,560"/>
<circle class="e" cx="620" cy="470" r="14"/><circle class="e" cx="500" cy="545" r="12"/><circle class="e" cx="550" cy="500" r="12"/>
<path class="e" d="M300,260 Q320,240 345,255 L355,330 L310,340 Z"/>
<ellipse class="e" cx="322" cy="295" rx="14" ry="22"/>
<path class="e" d="M40,600 Q50,570 80,575 Q110,590 110,630 Q100,660 70,660 Q40,650 40,600 Z"/>
<ellipse class="e" cx="75" cy="618" rx="22" ry="28"/>
<path class="e" d="M180,690 Q200,670 230,680 Q250,710 240,750 Q220,770 195,760 Q175,730 180,690 Z"/>
<ellipse class="e" cx="212" cy="715" rx="18" ry="24"/>
<path class="e" d="M300,810 L360,800 L385,830 L380,880 L320,890 L300,860 Z M320,815 L320,885"/>
<circle class="e" cx="355" cy="845" r="10"/>
<path class="e" d="M40,700 L40,850 M80,700 L80,870 M130,720 L130,897 M180,760 L180,923 M220,800 L220,947 M260,760 L260,967"/>
<path class="e" d="M0,640 L180,700 M0,680 L170,740 M0,840 L140,880 M200,840 L300,860"/>
<path class="e" d="M60,750 L120,780 L120,850 L60,820 Z M100,780 L100,850"/>
<path class="e" d="M0,300 Q50,260 100,240 L140,230 M0,320 Q50,280 100,262 L140,250"/>
<path class="e" d="M20,390 Q0,440 30,480 L60,540 M40,380 Q20,430 50,470 L80,530"/>
<path class="e" d="M60,420 L160,460 L200,420 M80,470 L150,500 M60,340 L200,380 L260,340"/>
<path class="e" d="M180,360 Q220,340 250,370 L260,420 Q240,440 210,430 Z M290,380 Q320,360 340,390 L345,430 Q320,440 300,430 Z"/>
<ellipse class="e" cx="215" cy="395" rx="18" ry="22"/><ellipse class="e" cx="318" cy="405" rx="14" ry="18"/>
<path class="e" d="M380,380 Q400,370 420,390 L450,420 Q460,450 440,460 L400,450 Z"/>
<path class="e" d="M440,370 L480,350 L520,360 L560,340 L600,350 M460,400 L600,360"/>
<path class="e" d="M480,320 L580,300 L580,260 M500,280 L540,260"/>
<path class="e" d="M610,360 L680,340 L730,350 L720,410 L690,430 L630,420 Z M650,345 L660,425"/>
</g>

<g transform="translate(235 275) scale(0.11)" class="z">
<path class="ew" d="M230,260 L420,225 L560,290 Q700,380 800,460 Q840,560 820,700 Q780,850 640,880 L440,850 L200,760 L110,580 Q90,480 110,380 Q150,290 230,260 Z"/>
<path class="eb" style="fill:none;stroke-width:1.6" d="M240,258 Q140,290 110,380 Q95,470 115,530"/>
<path class="e" d="M250,270 Q200,300 170,380 Q150,470 160,540"/>
<path class="e" d="M290,270 Q240,420 250,560 Q255,680 300,780 M310,265 Q262,420 270,560 Q276,680 320,788"/>
<path class="e" d="M380,240 Q320,420 345,620 Q360,740 420,840 M410,232 Q350,420 375,620 Q390,740 448,848"/>
<path class="e" d="M110,580 Q140,700 200,760 M110,500 L290,560 L300,610 L230,620 L120,570"/>
<path class="e" d="M220,560 L220,760 M250,580 L245,640"/>
<path class="e" d="M400,90 L470,85 L560,150 L600,230 L560,290 M420,225 L470,140 L560,150 M470,85 L470,140"/>
<path class="e" d="M560,150 Q600,130 640,160 L660,300"/>
<ellipse class="ew" cx="648" cy="660" rx="172" ry="222" transform="rotate(8 648 660)"/>
<ellipse class="e" cx="630" cy="660" rx="160" ry="212" transform="rotate(8 630 660)"/>
<path class="e" d="M480,470 L560,430 L580,470 L500,520 Z M500,640 L560,640 L570,690 L510,700 Z M480,760 L550,740 L560,800 L490,810 Z"/>
<path class="e" d="M540,380 L600,360 L640,400 L600,440 Z M700,700 L760,700 L780,760 L720,780 Z"/>
<circle class="e" cx="530" cy="540" r="14"/><circle class="e" cx="540" cy="780" r="12"/>
</g>
<g transform="translate(240 270) scale(0.25)" class="z">
<path class="e" d="M190,395 Q200,450 260,485 L300,490 M205,398 Q215,445 270,475"/>
<path class="ew" d="M270,500 L300,480 L420,520 L440,560 L432,640 L330,622 L272,585 Z"/>
<path class="e" d="M280,505 L420,545 L425,630 M300,520 L300,600 M330,530 L330,615 M350,540 L400,555 L400,610 L350,600 Z"/>
<circle class="e" cx="290" cy="560" r="9"/><circle class="e" cx="320" cy="575" r="8"/><circle class="e" cx="380" cy="575" r="10"/><circle class="e" cx="410" cy="600" r="8"/><circle class="e" cx="350" cy="605" r="7"/>
<path class="e" d="M300,480 L305,440 L350,430 L420,450 L420,520"/>
</g>

<g>
<ellipse class="ew" cx="652" cy="526.5" rx="72" ry="111" transform="rotate(27.1 652 526.5)"/>
<ellipse class="el" cx="652" cy="526.5" rx="68.5" ry="107.5" transform="rotate(27.1 652 526.5)"/>
<ellipse class="e" cx="645.5" cy="521.6" rx="59.1" ry="103.4" transform="rotate(30 645.5 521.6)"/>
<ellipse class="ew" cx="642.5" cy="521.6" rx="53.1" ry="97.4" transform="rotate(30 642.5 521.6)"/>
<ellipse class="e" cx="646.5" cy="520.6" rx="49.1" ry="94.4" transform="rotate(30 646.5 520.6)"/>
<ellipse class="e" cx="682.7" cy="543.6" rx="1.4" ry="1.8"/>
<ellipse class="e" cx="663.1" cy="570.9" rx="1.4" ry="1.8"/>
<ellipse class="e" cx="640.6" cy="590.7" rx="1.4" ry="1.8"/>
<ellipse class="e" cx="618.7" cy="600.0" rx="1.4" ry="1.8"/>
<ellipse class="e" cx="600.8" cy="597.3" rx="1.4" ry="1.8"/>
<ellipse class="e" cx="589.5" cy="583.1" rx="1.4" ry="1.8"/>
<ellipse class="e" cx="586.6" cy="559.5" rx="1.4" ry="1.8"/>
<ellipse class="e" cx="592.5" cy="530.2" rx="1.4" ry="1.8"/>
<ellipse class="e" cx="670.3" cy="443.2" rx="1.4" ry="1.8"/>
<ellipse class="e" cx="688.2" cy="445.9" rx="1.4" ry="1.8"/>
<ellipse class="e" cx="699.5" cy="460.1" rx="1.4" ry="1.8"/>
<ellipse class="e" cx="702.4" cy="483.7" rx="1.4" ry="1.8"/>
<ellipse class="e" cx="696.5" cy="513.0" rx="1.4" ry="1.8"/>
<ellipse class="e" cx="703.2" cy="577.0" rx="1.6" ry="1.9"/>
<ellipse class="e" cx="675.9" cy="607.2" rx="1.6" ry="1.9"/>
<ellipse class="e" cx="645.0" cy="625.0" rx="1.6" ry="1.9"/>
<ellipse class="e" cx="615.2" cy="627.8" rx="1.6" ry="1.9"/>
<ellipse class="e" cx="591.0" cy="615.3" rx="1.6" ry="1.9"/>
<ellipse class="e" cx="576.0" cy="589.2" rx="1.6" ry="1.9"/>
<ellipse class="e" cx="572.6" cy="553.5" rx="1.6" ry="1.9"/>
<ellipse class="e" cx="581.3" cy="513.8" rx="1.6" ry="1.9"/>
<ellipse class="e" cx="600.8" cy="476.0" rx="1.6" ry="1.9"/>
<ellipse class="e" cx="628.1" cy="445.8" rx="1.6" ry="1.9"/>
<ellipse class="e" cx="659.0" cy="428.0" rx="1.6" ry="1.9"/>
<ellipse class="e" cx="688.8" cy="425.2" rx="1.6" ry="1.9"/>
<ellipse class="e" cx="713.0" cy="437.7" rx="1.6" ry="1.9"/>
<ellipse class="e" cx="728.0" cy="463.8" rx="1.6" ry="1.9"/>
<ellipse class="e" cx="731.4" cy="499.5" rx="1.6" ry="1.9"/>
<ellipse class="e" cx="722.7" cy="539.2" rx="1.6" ry="1.9"/>
<ellipse class="e" cx="632" cy="513.2" rx="33.6" ry="48" transform="rotate(18 632 513.2)"/>
<ellipse class="e" cx="634" cy="514" rx="31" ry="45" transform="rotate(18 634 514)"/>
<ellipse class="e" cx="629" cy="513" rx="16" ry="23" transform="rotate(20 629 513)"/>
<ellipse class="e" cx="629" cy="513" rx="6" ry="8" transform="rotate(20 629 513)"/>
<ellipse class="e" cx="639.5" cy="513.0" rx="2.8" ry="3.6"/>
<ellipse class="e" cx="637.5" cy="522.1" rx="2.8" ry="3.6"/>
<ellipse class="e" cx="632.2" cy="527.7" rx="2.8" ry="3.6"/>
<ellipse class="e" cx="625.8" cy="527.7" rx="2.8" ry="3.6"/>
<ellipse class="e" cx="620.5" cy="522.1" rx="2.8" ry="3.6"/>
<ellipse class="e" cx="618.5" cy="513.0" rx="2.8" ry="3.6"/>
<ellipse class="e" cx="620.5" cy="503.9" rx="2.8" ry="3.6"/>
<ellipse class="e" cx="625.8" cy="498.3" rx="2.8" ry="3.6"/>
<ellipse class="e" cx="632.2" cy="498.3" rx="2.8" ry="3.6"/>
<ellipse class="e" cx="637.5" cy="503.9" rx="2.8" ry="3.6"/>
<ellipse class="e" cx="643" cy="487" rx="3" ry="4.2"/>
<ellipse class="e" cx="625" cy="537" rx="3" ry="4"/>
<ellipse class="e" cx="606" cy="508" rx="2" ry="3"/>
</g>
<path d="M578,414 Q579,414 580,413 Q598,398 612,391 Q622,382 631,378 Q650,375 670,383 Q688,388 695,394 Q702,400 702,406" style="stroke:#1a1a1a;stroke-width:5.5;fill:none;stroke-linecap:round"/>
<path d="M578,414 Q579,414 580,413 Q598,398 612,391 Q622,382 631,378 Q650,375 670,383 Q688,388 695,394 Q702,400 702,406" style="stroke:#fff;stroke-width:3.6;fill:none;stroke-linecap:round"/>
<path d="M590,425 Q610,410 640,400 L680,398 Q700,402 712,418" style="stroke:#1a1a1a;stroke-width:4.5;fill:none;stroke-linecap:round"/>
<path d="M590,425 Q610,410 640,400 L680,398 Q700,402 712,418" style="stroke:#fff;stroke-width:2.8;fill:none;stroke-linecap:round"/>
<circle class="ew" cx="635" cy="392" r="3"/><circle class="ew" cx="652" cy="394" r="2.5"/><circle class="ew" cx="614" cy="404" r="2.5"/>

<g transform="translate(280 615) scale(0.13)" class="z">
<path class="pw" d="M115,255 Q112,240 130,230 L325,118 Q345,108 365,118 L838,395 Q862,410 862,440 L862,755 Q860,775 840,775 L700,770 L520,690 L345,470 L140,345 L128,340 L122,300 Z"/>
<path class="p" d="M115,262 L590,540 Q605,548 625,540 L838,420"/>
<path class="p" d="M122,298 L580,565 Q600,572 620,560"/>
<path class="p" d="M122,298 L128,340 M140,305 L145,345"/>
<path class="p" d="M140,345 L325,455 Q375,470 345,480"/>
<path class="p" d="M345,480 L520,690"/>
<path class="p" d="M345,470 L520,690"/>
<path class="p" d="M590,545 L590,598 L775,732 Q800,740 820,720 L820,455 Q840,440 862,440"/>
<path class="p" d="M575,565 L575,600 L590,598"/>
<path class="p" d="M838,420 L838,760"/>
<path class="el" d="M350,140 L830,400"/>
<ellipse class="p" cx="415" cy="295" rx="24" ry="15"/>
<ellipse class="p" cx="510" cy="300" rx="18" ry="11"/>
<ellipse class="p" cx="518" cy="352" rx="24" ry="15"/>
<ellipse class="p" cx="537" cy="575" rx="14" ry="20"/>
</g>
<g transform="translate(270 690) scale(0.13)" class="z">
<path class="pw" d="M240,210 L430,95 L460,110 L510,95 L730,230 Q740,280 760,290 L810,320 L815,560 L620,670 L240,455 Z"/>
<path class="p" d="M240,210 L300,242 Q318,235 320,205 L335,198 L460,110"/>
<path class="p" d="M335,198 L545,345 Q552,395 580,410 L620,420 L620,670"/>
<path class="p" d="M620,420 L810,320"/>
<path class="el" d="M570,370 L740,285 M585,395 L760,305"/>
<ellipse class="p" cx="490" cy="175" rx="18" ry="11"/>
<ellipse class="p" cx="595" cy="235" rx="18" ry="11"/>
</g>
<g transform="translate(270 760) scale(0.15)" class="z">
<path class="pw" d="M85,210 L300,70 L395,70 L688,240 L690,310 L480,435 Q462,445 445,437 L85,228 Z"/>
<path class="p" d="M85,212 L440,420 Q460,430 480,420 L688,300"/>
<path class="p" d="M130,205 Q125,190 145,182 L195,165 Q215,162 218,175 Q218,188 200,195 L150,212 Q133,215 130,205 Z"/>
<path class="p" d="M290,130 Q285,118 300,113 L325,118 Q352,125 352,138 Q350,148 335,146 L305,142 Q290,140 290,130 Z"/>
<path class="p" d="M565,278 Q560,266 575,262 L600,268 Q628,275 628,290 Q625,298 610,296 L580,292 Q565,290 565,278 Z"/>
<path class="p" d="M445,380 Q440,368 458,360 L505,345 Q525,342 527,355 Q527,367 510,373 L462,390 Q448,392 445,380 Z"/>
</g>

<g transform="translate(155 425) scale(0.13)" class="z">
<path class="pw" d="M510,118 Q488,122 482,142 L483,262 L470,275 L255,425 Q240,440 120,610 Q95,622 88,645 Q88,680 112,700 L340,840 Q372,855 412,838 L808,615 Q840,595 840,560 L840,312 Q836,272 800,255 L532,120 Q520,115 510,118 Z"/>
<path class="p" d="M505,145 L790,278 Q815,292 815,320 L815,548 Q815,575 790,590 L710,532"/>
<path class="p" d="M95,660 L345,812 Q375,825 405,812 L805,590"/>
<path class="p" d="M140,640 L270,440 L492,296 L588,205"/>
<path class="p" d="M120,612 L255,425"/>
<path class="p" d="M400,770 L540,570 L610,350 L700,262"/>
<path class="p" d="M420,785 L557,582 L627,362 L712,275"/>
<path class="p" d="M150,625 L285,565 L540,505"/>
<path class="p" d="M557,582 L630,560 L710,532 L720,270"/>
<path class="el" d="M490,295 L490,520 M505,285 L505,515 M600,210 L600,560 M270,440 L270,560 M540,600 L540,700 M720,520 L800,585"/>
<path class="p" d="M300,700 Q275,690 285,670 L405,620 Q440,615 440,640 Q440,655 420,665 L310,705 Q302,705 300,700 Z"/>
<ellipse class="p" cx="530" cy="185" rx="12" ry="17"/>
<ellipse class="p" cx="765" cy="325" rx="12" ry="17"/>
<ellipse class="p" cx="765" cy="455" rx="12" ry="17"/>
</g>

<g transform="translate(740 355) scale(0.12)" class="z">
<path class="pw" d="M75,300 Q72,245 130,212 L335,95 Q365,78 400,95 L868,368 Q890,385 885,412 L880,425 L645,870 L625,960 Q615,975 590,972 L440,955 L385,975 Q370,978 355,968 L160,855 Q150,850 152,838 L150,740 L85,670 Q75,655 75,640 Z"/>
<path class="el" d="M130,212 Q140,215 150,222 L650,515"/>
<path class="el" d="M80,322 L600,605"/>
<path class="p" d="M650,515 Q612,540 610,600 L610,955"/>
<path class="p" d="M650,515 L865,400 Q885,395 885,412"/>
<path class="p" d="M640,545 L880,425"/>
<path class="p" d="M630,560 Q625,580 628,600 L628,950"/>
<path class="p" d="M645,870 L860,455"/>
<path class="pw" d="M160,540 Q165,500 210,495 L240,490 Q260,488 280,498 L420,580 Q440,595 440,620 L440,930 Q440,955 420,960 L385,975 Q370,978 355,968 L165,855 Q155,848 155,835 Z"/>
<path class="p" d="M160,540 Q175,530 200,540 L355,628 Q380,645 380,680 L380,945 Q380,968 360,968"/>
<path class="el" d="M380,650 L440,620 M380,690 L440,665"/>
<ellipse class="p" cx="205" cy="605" rx="14" ry="20" transform="rotate(-15 205 605)"/>
<ellipse class="p" cx="325" cy="675" rx="14" ry="20" transform="rotate(-15 325 675)"/>
<ellipse class="p" cx="325" cy="860" rx="14" ry="20" transform="rotate(-15 325 860)"/>
<ellipse class="p" cx="205" cy="795" rx="12" ry="16"/>
<ellipse class="p" cx="250" cy="795" rx="30" ry="38"/>
<ellipse class="p" cx="258" cy="790" rx="20" ry="28"/>
<ellipse class="p" cx="450" cy="272" rx="22" ry="14"/>
<ellipse class="p" cx="460" cy="332" rx="17" ry="12"/>
<ellipse class="p" cx="560" cy="340" rx="22" ry="14"/>
<path class="pw" d="M650,575 L770,530 Q780,528 782,540 L782,600 Q782,612 770,615 L660,672 Q648,678 648,665 Z"/>
<circle class="p" cx="680" cy="625" r="18"/>
<circle class="p" cx="765" cy="575" r="18"/>
<path class="p" d="M655,585 L775,540 M655,590 L655,670"/>
</g>

<g transform="translate(665 160) scale(0.12)" class="z">
<path class="pw" d="M95,148 Q110,135 135,142 L215,175 Q240,168 300,163 Q380,140 470,138 Q545,140 565,180 L865,350 Q895,370 885,400 L490,650 Q465,668 440,648 L95,448 Q75,438 75,415 L78,175 Q80,155 95,148 Z"/>
<path class="p" d="M100,165 L420,318 Q440,330 440,355 L440,625"/>
<path class="p" d="M130,143 L425,300 Q458,320 458,360 L458,628 Q458,650 470,655"/>
<path class="p" d="M458,628 L440,640"/>
<path class="p" d="M80,420 Q90,440 110,440 L440,630"/>
<path class="p" d="M470,615 L860,385"/>
<path class="p" d="M470,605 L470,250 L380,250 Q420,230 470,240"/>
<path class="p" d="M235,175 Q260,190 300,185 Q360,160 420,165 Q480,170 510,195 Q540,215 560,185"/>
<path class="p" d="M470,250 Q500,240 560,255 L830,325 Q860,345 860,385"/>
<path class="p" d="M470,515 L850,390"/>
<path class="el" d="M330,180 L330,250 M420,170 L420,240 M700,335 L700,455 M720,335 L720,445 M560,195 L560,250"/>
<path class="p" d="M475,265 L820,330"/>
<ellipse class="p" cx="128" cy="215" rx="14" ry="19"/>
<ellipse class="p" cx="128" cy="357" rx="14" ry="19"/>
<ellipse class="p" cx="380" cy="363" rx="14" ry="19"/>
<ellipse class="p" cx="380" cy="505" rx="14" ry="19"/>
</g>

<g transform="translate(740 470) scale(0.14)" class="z">
<path class="pw" d="M180,240 L360,133 L385,148 L432,130 L635,255 Q640,290 660,305 L715,340 L715,572 L540,670 L180,465 Z"/>
<path class="p" d="M180,240 L240,268 Q255,262 255,240 L265,233 L385,148"/>
<path class="p" d="M265,233 L460,355 Q470,405 500,420 L540,440 L540,670"/>
<path class="p" d="M540,440 L715,340"/>
<path class="el" d="M485,375 L650,290 M500,405 L670,318"/>
<ellipse class="p" cx="390" cy="225" rx="20" ry="10"/>
<ellipse class="p" cx="480" cy="280" rx="20" ry="10"/>
</g>
<g transform="translate(750 570) scale(0.19)" class="z">
<path class="pw" d="M95,152 L262,52 Q272,48 282,52 L568,212 Q575,220 570,240 L410,330 L330,330 L95,200 Z"/>
<path class="p" d="M95,200 L95,160 M95,200 L325,338 L410,338 L570,240"/>
<path class="p" d="M95,200 Q100,190 110,195 L330,325 L410,325 L565,232"/>
<path class="p" d="M225,100 Q222,88 240,80 L280,65 Q298,62 298,75 Q298,85 285,90 L245,108 Q228,112 225,100 Z"/>
<path class="p" d="M145,152 Q145,142 158,140 L175,142 Q190,145 190,158 Q188,168 175,165 L158,165 Q145,162 145,152 Z"/>
<path class="p" d="M465,245 Q462,232 480,225 L525,212 Q542,210 542,222 Q540,232 525,238 L485,252 Q468,255 465,245 Z"/>
<path class="p" d="M360,278 Q360,268 372,266 L395,268 Q412,272 412,285 Q410,295 395,292 L372,290 Q360,288 360,278 Z"/>
</g>

<polygon points="792.1,116.2 793.5,110.7 798.3,108.0 803.7,109.6 807.7,116.7 806.3,122.2 801.5,124.9 796.1,123.3" class="k" fill="white"/>
<polygon points="807.7,116.7 806.3,122.2 800.9,120.6 796.9,113.4 798.3,108.0 803.7,109.6" class="k" fill="white"/>
<line x1="802.9" y1="119.4" x2="807.7" y2="116.7" class="t"/>
<line x1="801.5" y1="124.9" x2="806.3" y2="122.2" class="t"/>
<line x1="796.1" y1="123.3" x2="800.9" y2="120.6" class="t"/>
<line x1="792.1" y1="116.2" x2="796.9" y2="113.4" class="t"/>
<line x1="793.5" y1="110.7" x2="798.3" y2="108.0" class="t"/>
<line x1="798.9" y1="112.3" x2="803.7" y2="109.6" class="t"/>
<polygon points="786.2,128.4 799.3,121.0 795.7,114.6 782.6,122.0" class="n" fill="white"/>
<line x1="786.2" y1="128.4" x2="799.3" y2="121.0" class="k"/>
<line x1="782.6" y1="122.0" x2="795.7" y2="114.6" class="k"/>
<ellipse cx="784.4" cy="125.2" rx="2.0" ry="3.7" transform="rotate(-29.5 784.4 125.2)" class="k" fill="white"/>
<ellipse cx="784.4" cy="125.2" rx="1.2" ry="2.2" transform="rotate(-29.5 784.4 125.2)" class="t" fill="none"/>
<ellipse cx="759.3" cy="141.7" rx="9.5" ry="6.0" transform="rotate(65.0 759.3 141.7)" class="k" fill="white"/>
<ellipse cx="758.0" cy="141.0" rx="9.5" ry="6.0" transform="rotate(65.0 758.0 141.0)" class="k" fill="white"/>
<ellipse cx="758.0" cy="141.0" rx="4.6" ry="2.9" transform="rotate(65.0 758.0 141.0)" class="k" fill="white"/>
<ellipse cx="758.8" cy="141.4" rx="3.7" ry="2.3" transform="rotate(65.0 758.8 141.4)" class="t" fill="none"/>
<polygon points="785.9,243.8 790.1,239.8 798.4,239.8 802.5,243.8 802.5,250.3 798.4,254.3 790.1,254.3 785.9,250.3" class="k" fill="white"/>
<polygon points="798.4,239.8 802.5,243.8 798.4,247.8 790.1,247.8 785.9,243.8 790.1,239.8" class="k" fill="white"/>
<line x1="798.4" y1="246.3" x2="798.4" y2="239.8" class="t"/>
<line x1="802.5" y1="250.3" x2="802.5" y2="243.8" class="t"/>
<line x1="798.4" y1="254.3" x2="798.4" y2="247.8" class="t"/>
<line x1="790.1" y1="254.3" x2="790.1" y2="247.8" class="t"/>
<line x1="785.9" y1="250.3" x2="785.9" y2="243.8" class="t"/>
<line x1="790.1" y1="246.3" x2="790.1" y2="239.8" class="t"/>
<polygon points="799.5,272.3 799.5,250.3 788.9,250.3 788.9,272.3" class="n" fill="white"/>
<line x1="799.5" y1="272.3" x2="799.5" y2="250.3" class="k"/>
<line x1="788.9" y1="272.3" x2="788.9" y2="250.3" class="k"/>
<ellipse cx="794.2" cy="272.3" rx="2.9" ry="5.3" transform="rotate(-90.0 794.2 272.3)" class="k" fill="white"/>
<ellipse cx="794.2" cy="272.3" rx="1.7" ry="3.2" transform="rotate(-90.0 794.2 272.3)" class="t" fill="none"/>
<ellipse cx="794.0" cy="306.6" rx="9.0" ry="5.6" transform="rotate(0.0 794.0 306.6)" class="k" fill="white"/>
<ellipse cx="794.0" cy="305.0" rx="9.0" ry="5.6" transform="rotate(0.0 794.0 305.0)" class="k" fill="white"/>
<ellipse cx="794.0" cy="305.0" rx="3.6" ry="2.4" transform="rotate(0.0 794.0 305.0)" class="k" fill="white"/>
<ellipse cx="794.0" cy="306.0" rx="2.9" ry="1.9" transform="rotate(0.0 794.0 306.0)" class="t" fill="none"/>
<polygon points="962.9,331.5 964.4,325.8 969.6,322.9 975.2,324.6 979.3,332.0 977.9,337.7 972.6,340.6 967.0,338.9" class="k" fill="white"/>
<polygon points="979.3,332.0 977.9,337.7 972.3,336.0 968.1,328.5 969.6,322.9 975.2,324.6" class="k" fill="white"/>
<line x1="974.1" y1="334.9" x2="979.3" y2="332.0" class="t"/>
<line x1="972.6" y1="340.6" x2="977.9" y2="337.7" class="t"/>
<line x1="967.0" y1="338.9" x2="972.3" y2="336.0" class="t"/>
<line x1="962.9" y1="331.5" x2="968.1" y2="328.5" class="t"/>
<line x1="964.4" y1="325.8" x2="969.6" y2="322.9" class="t"/>
<line x1="970.0" y1="327.5" x2="975.2" y2="324.6" class="t"/>
<polygon points="946.4,350.1 970.4,336.7 966.6,329.7 942.6,343.1" class="n" fill="white"/>
<line x1="946.4" y1="350.1" x2="970.4" y2="336.7" class="k"/>
<line x1="942.6" y1="343.1" x2="966.6" y2="329.7" class="k"/>
<ellipse cx="944.5" cy="346.6" rx="2.2" ry="4.0" transform="rotate(-29.2 944.5 346.6)" class="k" fill="white"/>
<ellipse cx="944.5" cy="346.6" rx="1.3" ry="2.4" transform="rotate(-29.2 944.5 346.6)" class="t" fill="none"/>
<ellipse cx="918.9" cy="362.2" rx="9.5" ry="6.3" transform="rotate(63.0 918.9 362.2)" class="k" fill="white"/>
<ellipse cx="917.6" cy="361.6" rx="9.5" ry="6.3" transform="rotate(63.0 917.6 361.6)" class="k" fill="white"/>
<ellipse cx="917.6" cy="361.6" rx="4.4" ry="2.9" transform="rotate(63.0 917.6 361.6)" class="k" fill="white"/>
<ellipse cx="918.4" cy="362.0" rx="3.5" ry="2.3" transform="rotate(63.0 918.4 362.0)" class="t" fill="none"/>
<polygon points="19.6,562.4 21.1,556.1 26.3,553.1 32.5,555.0 37.2,563.1 35.7,569.5 30.5,572.4 24.3,570.6" class="k" fill="white"/>
<polygon points="19.6,562.4 21.1,556.1 27.3,558.0 32.0,566.1 30.5,572.4 24.3,570.6" class="k" fill="white"/>
<line x1="24.8" y1="559.5" x2="19.6" y2="562.4" class="t"/>
<line x1="26.3" y1="553.1" x2="21.1" y2="556.1" class="t"/>
<line x1="32.5" y1="555.0" x2="27.3" y2="558.0" class="t"/>
<line x1="37.2" y1="563.1" x2="32.0" y2="566.1" class="t"/>
<line x1="35.7" y1="569.5" x2="30.5" y2="572.4" class="t"/>
<line x1="29.5" y1="567.6" x2="24.3" y2="570.6" class="t"/>
<polygon points="42.2,549.8 28.8,557.5 33.2,565.1 46.6,557.4" class="n" fill="white"/>
<line x1="42.2" y1="549.8" x2="28.8" y2="557.5" class="k"/>
<line x1="46.6" y1="557.4" x2="33.2" y2="565.1" class="k"/>
<ellipse cx="44.4" cy="553.6" rx="2.4" ry="4.4" transform="rotate(150.1 44.4 553.6)" class="k" fill="white"/>
<ellipse cx="44.4" cy="553.6" rx="1.5" ry="2.6" transform="rotate(150.1 44.4 553.6)" class="t" fill="none"/>
<ellipse cx="65.7" cy="542.2" rx="9.5" ry="6.2" transform="rotate(65.0 65.7 542.2)" class="k" fill="white"/>
<ellipse cx="64.4" cy="541.6" rx="9.5" ry="6.2" transform="rotate(65.0 64.4 541.6)" class="k" fill="white"/>
<ellipse cx="64.4" cy="541.6" rx="4.5" ry="3.0" transform="rotate(65.0 64.4 541.6)" class="k" fill="white"/>
<ellipse cx="65.2" cy="542.0" rx="3.6" ry="2.4" transform="rotate(65.0 65.2 542.0)" class="t" fill="none"/>
<polygon points="129.2,811.8 130.7,806.2 135.9,803.3 141.5,805.0 145.5,812.3 144.1,817.9 138.8,820.9 133.3,819.1" class="k" fill="white"/>
<polygon points="129.2,811.8 130.7,806.2 136.2,807.9 140.3,815.2 138.8,820.9 133.3,819.1" class="k" fill="white"/>
<line x1="134.5" y1="808.9" x2="129.2" y2="811.8" class="t"/>
<line x1="135.9" y1="803.3" x2="130.7" y2="806.2" class="t"/>
<line x1="141.5" y1="805.0" x2="136.2" y2="807.9" class="t"/>
<line x1="145.5" y1="812.3" x2="140.3" y2="815.2" class="t"/>
<line x1="144.1" y1="817.9" x2="138.8" y2="820.9" class="t"/>
<line x1="138.5" y1="816.2" x2="133.3" y2="819.1" class="t"/>
<polygon points="163.9,792.4 137.9,806.8 142.1,814.4 168.1,800.0" class="n" fill="white"/>
<line x1="163.9" y1="792.4" x2="137.9" y2="806.8" class="k"/>
<line x1="168.1" y1="800.0" x2="142.1" y2="814.4" class="k"/>
<ellipse cx="166.0" cy="796.2" rx="2.4" ry="4.3" transform="rotate(151.0 166.0 796.2)" class="k" fill="white"/>
<ellipse cx="166.0" cy="796.2" rx="1.4" ry="2.6" transform="rotate(151.0 166.0 796.2)" class="t" fill="none"/>
<ellipse cx="194.8" cy="781.1" rx="9.3" ry="6.3" transform="rotate(65.0 194.8 781.1)" class="k" fill="white"/>
<ellipse cx="193.5" cy="780.5" rx="9.3" ry="6.3" transform="rotate(65.0 193.5 780.5)" class="k" fill="white"/>
<ellipse cx="193.5" cy="780.5" rx="4.2" ry="2.8" transform="rotate(65.0 193.5 780.5)" class="k" fill="white"/>
<ellipse cx="194.3" cy="780.9" rx="3.4" ry="2.2" transform="rotate(65.0 194.3 780.9)" class="t" fill="none"/>
<polygon points="326.0,531.3 330.0,527.5 338.0,527.5 342.0,531.3 342.0,537.8 338.0,541.6 330.0,541.6 326.0,537.8" class="k" fill="white"/>
<polygon points="338.0,527.5 342.0,531.3 338.0,535.1 330.0,535.1 326.0,531.3 330.0,527.5" class="k" fill="white"/>
<line x1="338.0" y1="534.0" x2="338.0" y2="527.5" class="t"/>
<line x1="342.0" y1="537.8" x2="342.0" y2="531.3" class="t"/>
<line x1="338.0" y1="541.6" x2="338.0" y2="535.1" class="t"/>
<line x1="330.0" y1="541.6" x2="330.0" y2="535.1" class="t"/>
<line x1="326.0" y1="537.8" x2="326.0" y2="531.3" class="t"/>
<line x1="330.0" y1="534.0" x2="330.0" y2="527.5" class="t"/>
<polygon points="339.2,559.9 339.2,537.8 328.8,537.8 328.8,559.9" class="n" fill="white"/>
<line x1="339.2" y1="559.9" x2="339.2" y2="537.8" class="k"/>
<line x1="328.8" y1="559.9" x2="328.8" y2="537.8" class="k"/>
<ellipse cx="334.0" cy="559.9" rx="2.9" ry="5.2" transform="rotate(-90.0 334.0 559.9)" class="k" fill="white"/>
<ellipse cx="334.0" cy="559.9" rx="1.7" ry="3.1" transform="rotate(-90.0 334.0 559.9)" class="t" fill="none"/>
<ellipse cx="334.0" cy="594.1" rx="9.1" ry="5.8" transform="rotate(0.0 334.0 594.1)" class="k" fill="white"/>
<ellipse cx="334.0" cy="592.5" rx="9.1" ry="5.8" transform="rotate(0.0 334.0 592.5)" class="k" fill="white"/>
<ellipse cx="334.0" cy="592.5" rx="3.9" ry="2.3" transform="rotate(0.0 334.0 592.5)" class="k" fill="white"/>
<ellipse cx="334.0" cy="593.5" rx="3.1" ry="1.8" transform="rotate(0.0 334.0 593.5)" class="t" fill="none"/>
<ellipse cx="823.0" cy="696.1" rx="13.3" ry="6.7" transform="rotate(0.0 823.0 696.1)" class="k" fill="white"/>
<ellipse cx="823.0" cy="693.5" rx="13.3" ry="6.7" transform="rotate(0.0 823.0 693.5)" class="k" fill="white"/>
<ellipse cx="823.0" cy="693.5" rx="4.2" ry="2.5" transform="rotate(0.0 823.0 693.5)" class="k" fill="white"/>
<ellipse cx="823.0" cy="695.1" rx="3.4" ry="2.0" transform="rotate(0.0 823.0 695.1)" class="t" fill="none"/>
<polygon points="814.4,740.0 818.7,735.9 827.3,735.9 831.6,740.0 831.6,746.5 827.3,750.6 818.7,750.6 814.4,746.5" class="k" fill="white"/>
<polygon points="818.7,750.6 814.4,746.5 818.7,742.4 827.3,742.4 831.6,746.5 827.3,750.6" class="k" fill="white"/>
<line x1="818.7" y1="744.1" x2="818.7" y2="750.6" class="t"/>
<line x1="814.4" y1="740.0" x2="814.4" y2="746.5" class="t"/>
<line x1="818.7" y1="735.9" x2="818.7" y2="742.4" class="t"/>
<line x1="827.3" y1="735.9" x2="827.3" y2="742.4" class="t"/>
<line x1="831.6" y1="740.0" x2="831.6" y2="746.5" class="t"/>
<line x1="827.3" y1="744.1" x2="827.3" y2="750.6" class="t"/>
<polygon points="818.2,724.0 818.2,740.0 827.8,740.0 827.8,724.0" class="n" fill="white"/>
<line x1="818.2" y1="724.0" x2="818.2" y2="740.0" class="k"/>
<line x1="827.8" y1="724.0" x2="827.8" y2="740.0" class="k"/>
<ellipse cx="823.0" cy="724.0" rx="2.6" ry="4.8" transform="rotate(90.0 823.0 724.0)" class="k" fill="white"/>
<ellipse cx="823.0" cy="724.0" rx="1.6" ry="2.9" transform="rotate(90.0 823.0 724.0)" class="t" fill="none"/>
<ellipse cx="359.3" cy="848.1" rx="14.3" ry="7.0" transform="rotate(0.0 359.3 848.1)" class="k" fill="white"/>
<ellipse cx="359.3" cy="845.5" rx="14.3" ry="7.0" transform="rotate(0.0 359.3 845.5)" class="k" fill="white"/>
<ellipse cx="359.3" cy="845.5" rx="4.9" ry="2.5" transform="rotate(0.0 359.3 845.5)" class="k" fill="white"/>
<ellipse cx="359.3" cy="847.1" rx="3.9" ry="2.0" transform="rotate(0.0 359.3 847.1)" class="t" fill="none"/>
<polygon points="350.9,888.0 355.2,883.9 363.8,883.9 368.1,888.0 368.1,894.5 363.8,898.6 355.2,898.6 350.9,894.5" class="k" fill="white"/>
<polygon points="355.2,898.6 350.9,894.5 355.2,890.4 363.8,890.4 368.1,894.5 363.8,898.6" class="k" fill="white"/>
<line x1="355.2" y1="892.1" x2="355.2" y2="898.6" class="t"/>
<line x1="350.9" y1="888.0" x2="350.9" y2="894.5" class="t"/>
<line x1="355.2" y1="883.9" x2="355.2" y2="890.4" class="t"/>
<line x1="363.8" y1="883.9" x2="363.8" y2="890.4" class="t"/>
<line x1="368.1" y1="888.0" x2="368.1" y2="894.5" class="t"/>
<line x1="363.8" y1="892.1" x2="363.8" y2="898.6" class="t"/>
<polygon points="354.6,871.0 354.6,888.0 364.4,888.0 364.4,871.0" class="n" fill="white"/>
<line x1="354.6" y1="871.0" x2="354.6" y2="888.0" class="k"/>
<line x1="364.4" y1="871.0" x2="364.4" y2="888.0" class="k"/>
<ellipse cx="359.5" cy="871.0" rx="2.7" ry="4.8" transform="rotate(90.0 359.5 871.0)" class="k" fill="white"/>
<ellipse cx="359.5" cy="871.0" rx="1.6" ry="2.9" transform="rotate(90.0 359.5 871.0)" class="t" fill="none"/>
<path d="M784.0,126.0 L575.0,247.0" class="c"/>
<path d="M794.0,272.0 L794.0,355.0 L807.0,361.5 L807.0,490.0" class="c"/>
<path d="M794.0,310.0 L794.0,500.0" class="c"/>
<path d="M782.0,563.0 L782.0,629.0 L823.0,652.7 L823.0,724.0" class="c"/>
<path d="M823.3,555.0 L823.3,652.0" class="c"/>
<path d="M944.0,347.0 L712.0,478.0" class="c"/>
<path d="M46.0,557.0 L305.0,404.0" class="c"/>
<path d="M334.3,560.0 L334.3,625.0 L347.6,632.6 L347.6,650.0" class="c"/>
<path d="M334.3,650.0 L334.3,705.0" class="c"/>
<path d="M347.6,695.0 L347.6,712.0" class="c"/>
<path d="M318.1,755.0 L318.1,771.0" class="c"/>
<path d="M359.7,770.0 L359.7,790.0" class="c"/>
<path d="M359.3,820.0 L359.3,871.0" class="c"/>
<path d="M343.5,826.0 L359.3,836.5" class="c"/>
<path d="M168.0,794.0 L534.0,582.0" class="c"/>
</svg></body></html>
